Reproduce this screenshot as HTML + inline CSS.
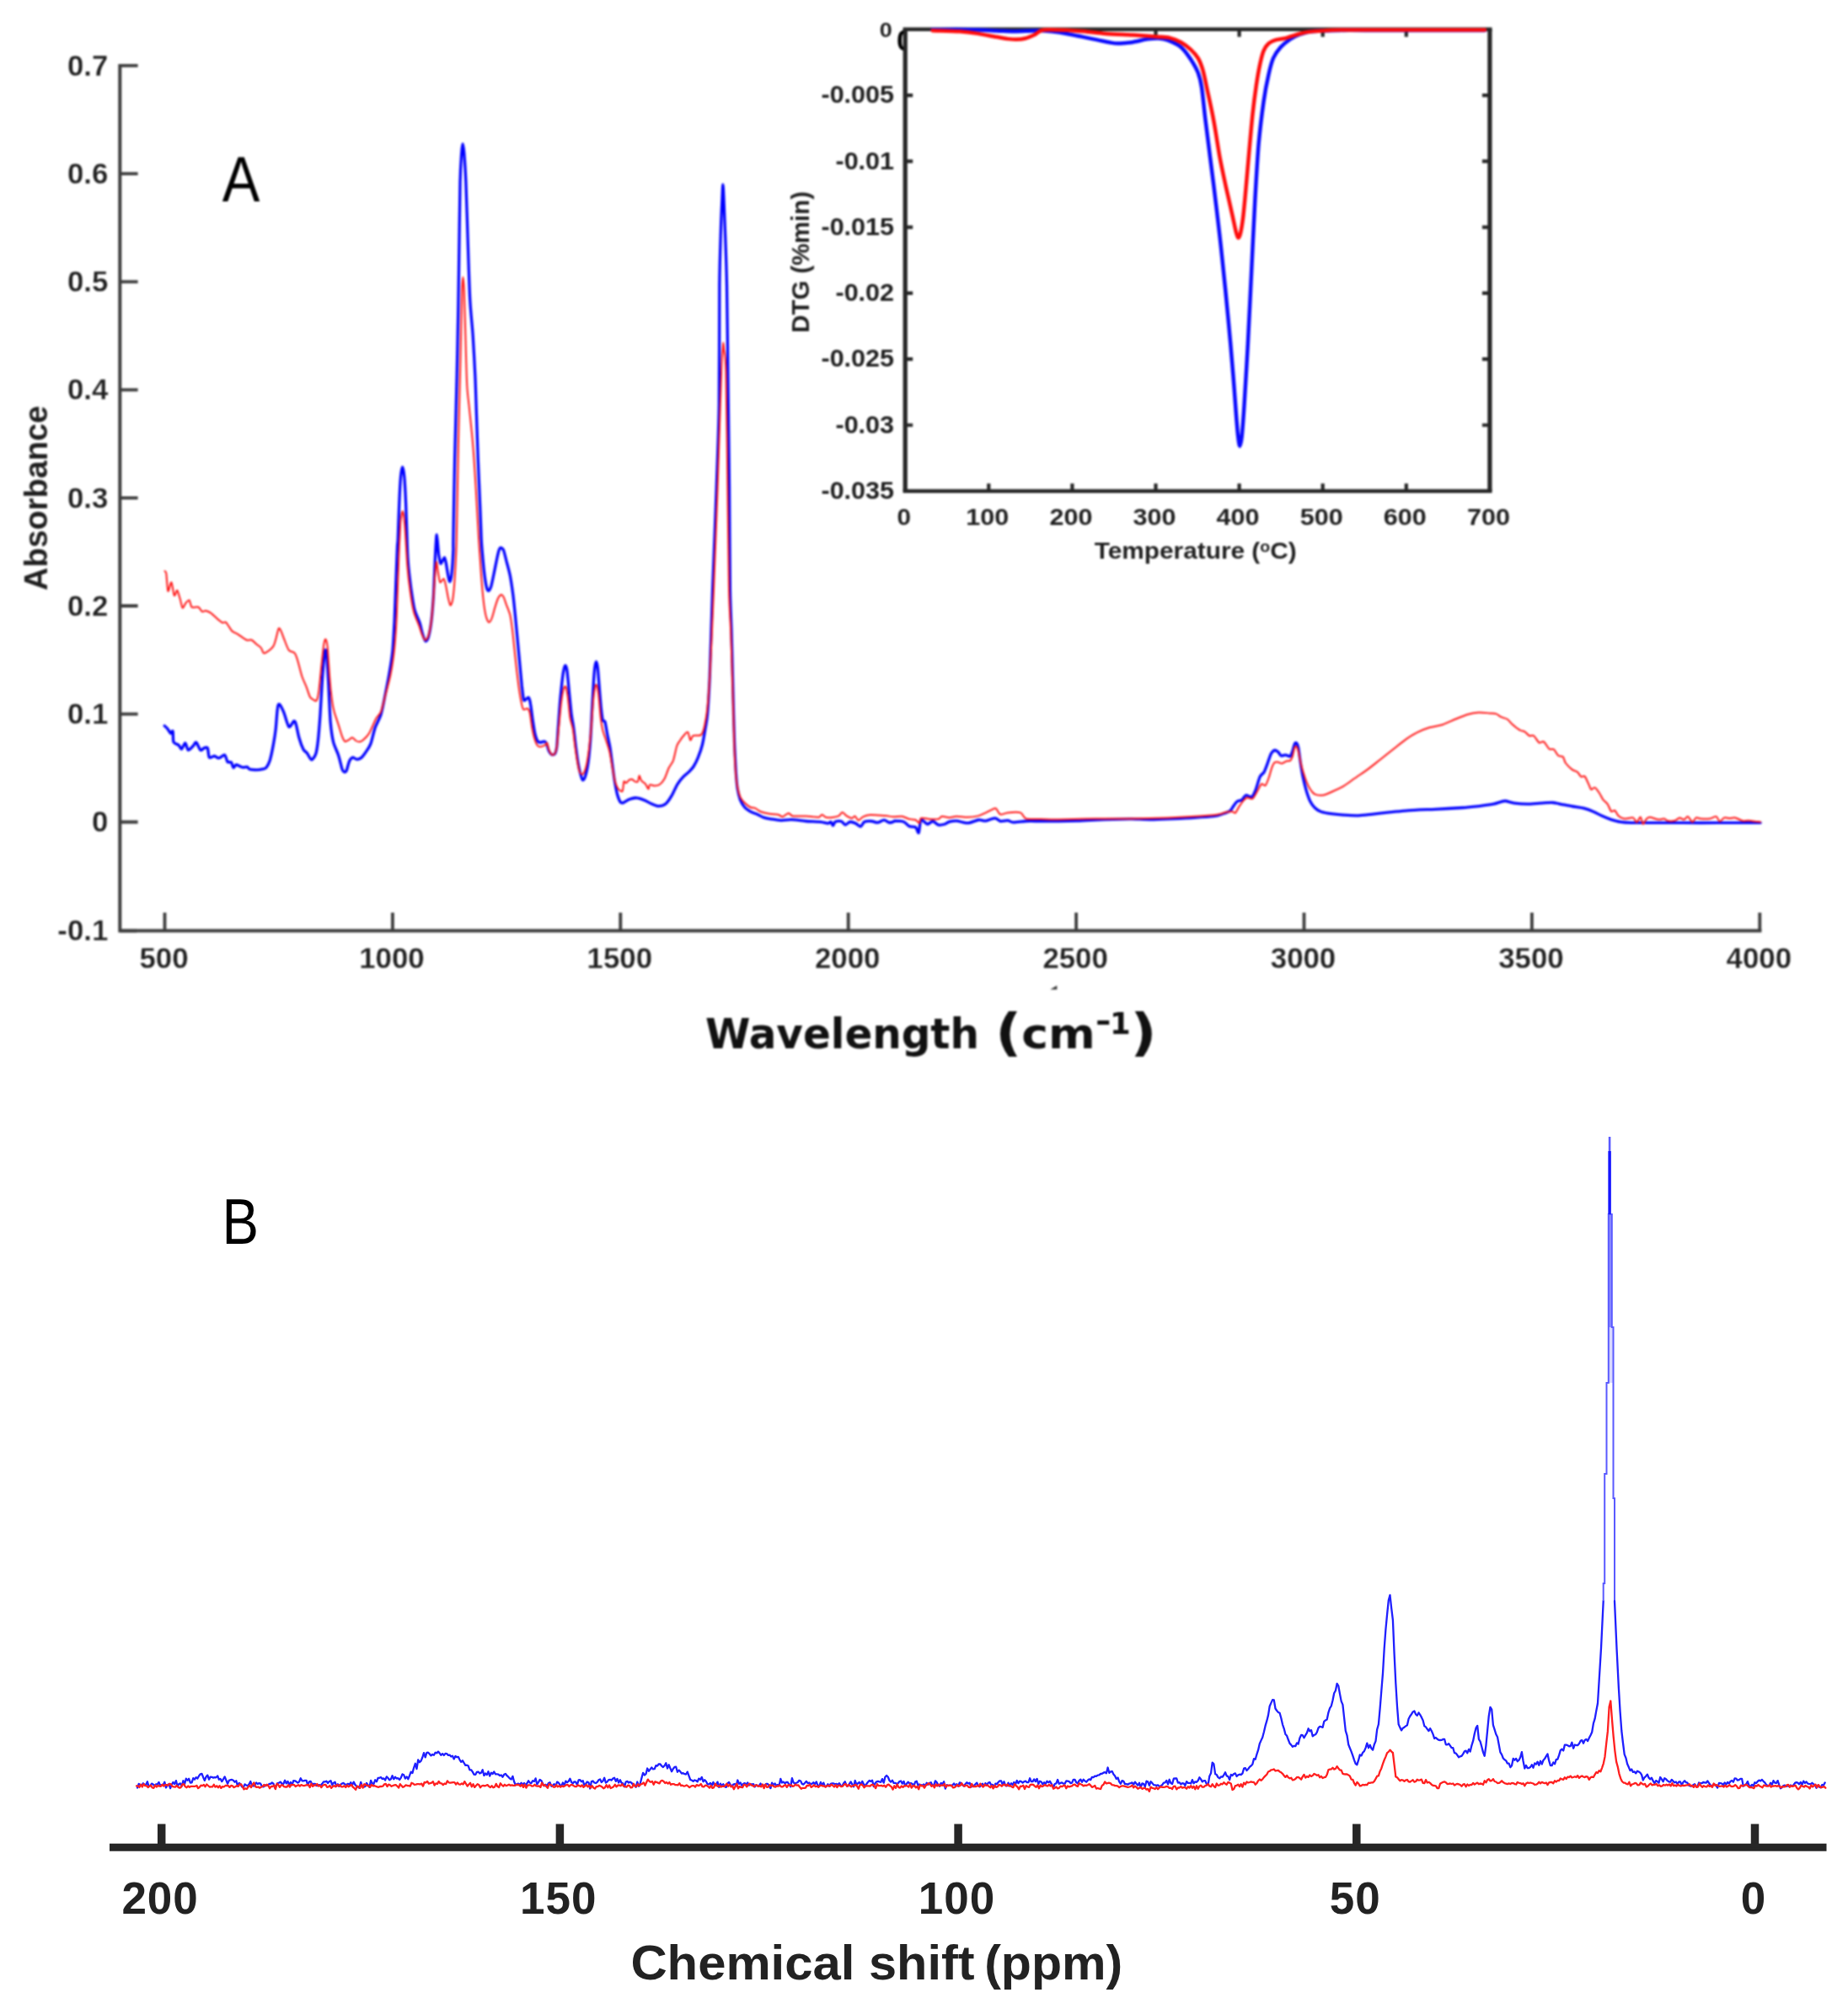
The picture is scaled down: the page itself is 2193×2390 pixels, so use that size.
<!DOCTYPE html>
<html lang="en"><head><meta charset="utf-8"><title>FTIR, DTG and NMR spectra</title>
<style>html,body{margin:0;padding:0;background:#fff}svg{display:block}#pA{filter:blur(0.8px)}#pB{filter:blur(0.55px)}</style>
</head><body>
<svg width="2193" height="2390" viewBox="0 0 2193 2390">
<rect width="2193" height="2390" fill="#fff"/>
<g id="pA">
<g id="ftir-axes" stroke="#3d3d3d" stroke-width="4" fill="none">
<path d="M142.3 76 V1104.6 H2090.4"/>
<path d="M142.3 975.5 h21.3 M142.3 847.3 h21.3 M142.3 719 h21.3 M142.3 590.8 h21.3 M142.3 462.6 h21.3 M142.3 334.4 h21.3 M142.3 206.1 h21.3 M142.3 77.9 h21.3 M142.3 1104.6 h20 M195.5 1104.6 v-21.5 M465.9 1104.6 v-21.5 M736.3 1104.6 v-21.5 M1006.7 1104.6 v-21.5 M1277.1 1104.6 v-21.5 M1547.5 1104.6 v-21.5 M1817.9 1104.6 v-21.5 M2088.3 1104.6 v-21.5" stroke-width="3.8"/>
</g>
<g id="ftir-ylabels" font-family="'Liberation Sans', Arial, sans-serif" font-weight="bold" font-size="34.8" fill="#1f1f1f" text-anchor="end" stroke="#fff" stroke-width="0.3">
<text x="128.3" y="1116.4">-0.1</text>
<text x="128.3" y="987.3">0</text>
<text x="128.3" y="859.1">0.1</text>
<text x="128.3" y="730.8">0.2</text>
<text x="128.3" y="602.6">0.3</text>
<text x="128.3" y="474.4">0.4</text>
<text x="128.3" y="346.1">0.5</text>
<text x="128.3" y="217.9">0.6</text>
<text x="128.3" y="89.7">0.7</text>
</g>
<g id="ftir-xlabels" font-family="'Liberation Sans', Arial, sans-serif" font-weight="bold" font-size="34.8" fill="#1f1f1f" text-anchor="middle" stroke="#fff" stroke-width="0.3">
<text x="194.5" y="1148.6">500</text>
<text x="464.9" y="1148.6">1000</text>
<text x="735.3" y="1148.6">1500</text>
<text x="1005.7" y="1148.6">2000</text>
<text x="1276.1" y="1148.6">2500</text>
<text x="1546.5" y="1148.6">3000</text>
<text x="1816.9" y="1148.6">3500</text>
<text x="2087.3" y="1148.6">4000</text>
</g>
<text transform="translate(55.9 591) rotate(-90)" font-family="'Liberation Sans', Arial, sans-serif" font-weight="bold" font-size="38" fill="#1f1f1f" text-anchor="middle" textLength="219.5" lengthAdjust="spacingAndGlyphs">Absorbance</text>
<g id="wl-label" font-family="'DejaVu Sans', Verdana, sans-serif" font-weight="bold" font-size="50" fill="#111">
<text x="837" y="1243.5" textLength="325" lengthAdjust="spacingAndGlyphs">Wavelength</text>
<text x="1180.9" y="1246.3" font-size="60" textLength="31.5" lengthAdjust="spacingAndGlyphs">(</text>
<text x="1212.3" y="1243.5" textLength="87.5" lengthAdjust="spacingAndGlyphs">cm</text>
<text x="1299.8" y="1223.8" font-size="35.5" textLength="19" lengthAdjust="spacingAndGlyphs">-</text>
<text x="1317" y="1226.8" font-size="35.5">1</text>
<text x="1341.2" y="1246.3" font-size="60" textLength="31.5" lengthAdjust="spacingAndGlyphs">)</text>
</g>
<path d="M1246.3 1174.2 L1254.3 1169.6 L1254.3 1174.2 Z" fill="#333"/>
<text x="263.8" y="238.6" font-family="'Liberation Sans', Arial, sans-serif" font-size="76.5" fill="#000" textLength="44.6" lengthAdjust="spacingAndGlyphs">A</text>
<path id="ftir-blue" d="M195.2 861.3 C195.7 861.8 198.1 863.9 199 865.1 C200 866.3 201.7 870 202.5 870.3 C203.3 870.6 204.6 866.3 205.1 867.7 C205.6 869.1 205.1 878.5 206 880.7 C206.9 882.9 210.8 883 212 884.2 C213.3 885.3 214.5 889.4 215.5 889 C216.5 888.7 218.8 881.4 219.8 881.6 C220.9 881.7 222 889.8 223.3 890.2 C224.6 890.7 228.1 886.2 229.4 885 C230.6 883.8 231.7 880.3 232.8 881 C234 881.7 236.7 889.3 238 890.2 C239.3 891.1 241.2 888 242.3 887.6 C243.4 887.3 245.5 886.1 246.3 887.6 C247.1 889.1 247.3 897.6 248.4 898.9 C249.5 900.1 253 897 254.5 897.1 C256 897.3 258 899.9 259.7 899.7 C261.3 899.6 265.2 895.4 266.6 895.9 C268 896.5 269 902.9 270 904.1 C271.1 905.2 273.4 903.7 274.4 904.6 C275.3 905.5 276.2 910.6 277 911 C277.8 911.4 279 907.6 280.4 907.5 C281.8 907.5 285.6 910.1 287.4 910.5 C289.1 910.8 292.3 909.8 293.4 910.1 C294.6 910.4 294.5 912.3 296 912.7 C297.5 913.2 302.6 913.6 304.7 913.6 C306.8 913.6 310.1 913.1 311.6 912.7 C313.1 912.4 314.8 912.4 315.9 911 C317.1 909.6 319.1 906.1 320.3 902.3 C321.4 898.5 323.7 887.4 324.6 882.4 C325.5 877.5 326.6 870.6 327.2 865.1 C327.8 859.6 328.7 844.8 329.3 840.9 C329.8 836.9 330.5 835.1 331.5 835.7 C332.5 836.2 335.2 841.6 336.7 845.2 C338.2 848.8 341.2 861.1 342.8 862.5 C344.4 863.9 347.7 855.9 348.8 855.6 C350 855.2 350.6 857.3 351.4 859.9 C352.2 862.6 353.7 871.6 354.9 875.5 C356 879.4 358.8 886.9 360.1 889.4 C361.4 891.8 363.1 892.1 364.4 893.7 C365.7 895.3 368.2 901.4 369.6 901.5 C371 901.6 373.8 897.5 374.8 894.5 C375.8 891.5 376.7 885.2 377.4 879 C378.1 872.7 379.3 857.7 380 847.8 C380.7 837.9 381.9 814.2 382.6 804.5 C383.3 794.8 384.7 779.5 385.2 775.1 C385.7 770.7 386.1 771.1 386.4 771.6 C386.8 772.1 387.3 773 387.8 778.5 C388.3 784.1 389.3 802.8 389.9 813.2 C390.4 823.5 391.4 847.4 392.1 856.5 C392.9 865.5 394.3 875.4 395.6 880.7 C396.9 886 400.3 892 401.6 896.3 C403 900.5 405.1 910.1 406 912.7 C406.9 915.4 407.9 916 408.6 916.2 C409.3 916.4 410.4 916.2 411.2 914.5 C412 912.7 413.6 905.3 414.6 903.2 C415.6 901.1 417.5 899.2 418.6 898.9 C419.8 898.6 422 901.1 423.3 901.1 C424.6 901.2 427 900.6 428.5 899.4 C430 898.2 433 894.2 434.5 891.9 C436.1 889.7 438.6 886.2 440 882.4 C441.4 878.6 443.6 868 445.2 863.4 C446.8 858.8 450.5 853.1 452.1 847.8 C453.7 842.5 455.9 830.5 457.3 823.5 C458.7 816.6 461.4 802.8 462.5 795.8 C463.7 788.9 465.2 779.5 466 771.6 C466.7 763.8 467.5 747.6 468.1 737 C468.6 726.3 469.3 703.7 469.8 691.9 C470.2 680.2 471.2 655.6 471.5 648.7 C471.8 641.7 471.9 646.9 472.2 640 C472.5 633.1 473.3 606.9 473.8 597.1 C474.2 587.2 475 571.6 475.5 565.9 C476 560.2 477 554.1 477.6 554.1 C478.2 554.1 479.3 560.2 479.8 565.9 C480.4 571.6 481.2 588.3 481.6 597.1 C482 605.8 482.4 622.5 482.8 631.7 C483.1 640.9 483.5 657.2 484.2 666 C484.8 674.7 486.6 689.5 487.6 697.1 C488.7 704.8 490.6 717.6 491.9 723.1 C493.3 728.7 496.7 734.8 498 738.7 C499.3 742.6 500.5 749.6 501.5 752.6 C502.4 755.5 504 760.4 504.9 760.9 C505.9 761.3 507.5 759.2 508.4 756 C509.3 752.8 511.1 743.7 511.9 737 C512.7 730.3 513.9 715.3 514.5 705.8 C515 696.3 515.8 674.3 516.2 666 C516.6 657.7 517.1 647.7 517.4 643.5 C517.7 639.2 518 634.3 518.3 634.3 C518.5 634.3 519 640.4 519.3 643.5 C519.6 646.5 520.1 654 520.5 657.3 C521 660.7 522.2 667.4 522.8 668.6 C523.3 669.7 524.2 666.9 524.8 666 C525.5 665.1 526.9 661.4 527.4 661.6 C528 661.9 528.6 664.8 529.2 667.7 C529.8 670.6 531.2 680.3 531.8 683.3 C532.4 686.3 533.3 690.7 533.9 690.2 C534.4 689.8 535.6 684.7 536.1 679.8 C536.6 675 537.6 659.2 537.8 653.9 C538.1 648.5 537.7 654.5 537.9 640 C538.1 625.5 539 571 539.6 545 C540.2 519 541.7 468.1 542.2 445 C542.7 421.9 543.4 388.7 543.7 372 C544 355.3 544.2 340.7 544.5 320 C544.8 299.3 545.6 235 546 216.6 C546.4 198.2 547.3 188.1 547.7 182 C548.1 175.9 548.7 170.7 549.1 170.7 C549.5 170.7 550.3 175.9 550.8 182 C551.3 188.1 552.3 202.8 552.9 216.6 C553.5 230.4 554.6 267.3 555.2 285.8 C555.8 304.3 556.9 340 557.7 355 C558.5 370 560.4 386.4 561.2 398.4 C562 410.4 563.2 432.4 563.8 445 C564.4 457.6 565 479.7 565.5 493 C566 506.3 566.7 530 567.3 545 C567.9 560 569.4 593 569.9 605.7 C570.4 618.4 570.9 633.1 571.2 640 C571.5 646.9 572 651.5 572.5 657.3 C573 663.1 574.4 677.9 575.1 683.3 C575.8 688.7 577 695.7 577.7 698 C578.3 700.4 579.2 701.3 579.9 701 C580.6 700.6 582 698.2 582.9 695.4 C583.7 692.6 585.4 684.2 586.3 679.8 C587.2 675.4 589 666.2 589.8 662.5 C590.6 658.8 591.7 653.8 592.4 652.1 C593 650.5 593.9 649.9 594.6 650 C595.3 650.2 596.7 650.9 597.6 653 C598.4 655.1 600 661.9 601 666 C602.1 670 604.3 678 605.4 683.3 C606.4 688.6 608 699.6 608.8 705.8 C609.6 712 610.7 723.1 611.4 730 C612.1 737 613.3 750.4 614 757.7 C614.7 765.1 615.9 778.1 616.6 785.5 C617.3 792.8 618.6 807.2 619.2 813.2 C619.9 819.2 620.8 828.3 621.5 830.5 C622.2 832.7 623.6 830 624.4 829.6 C625.2 829.3 626.7 827.1 627.4 827.9 C628.1 828.7 629 832.1 629.6 835.7 C630.3 839.2 631.5 850.1 632.2 854.7 C632.9 859.3 634 867 634.8 870.3 C635.6 873.7 637.3 878.4 638.3 879.8 C639.2 881.3 640.7 881 641.7 881 C642.8 881 645.1 879.6 646.1 879.8 C647 880 648 880.9 648.7 882.4 C649.4 883.9 650.4 889.4 651.3 891.1 C652.1 892.8 653.7 894.9 654.7 895.4 C655.7 895.9 657.7 895.8 658.5 894.5 C659.3 893.3 660.2 890.3 660.8 885.9 C661.3 881.5 661.9 869.5 662.5 861.6 C663.1 853.8 664.3 835.3 665.1 827 C665.9 818.7 667.5 804.3 668.2 799.3 C669 794.3 670 790.2 670.6 789.8 C671.3 789.3 672.3 791.6 672.9 795.8 C673.5 800.1 674.8 814.9 675.5 821.8 C676.2 828.7 677.4 842.3 678.1 847.8 C678.8 853.3 680 858.3 680.7 863.4 C681.4 868.5 682.6 880.3 683.3 885.9 C684 891.4 685.2 900.8 685.9 904.9 C686.6 909.1 687.7 914.3 688.5 917.1 C689.2 919.8 690.6 925.1 691.4 925.7 C692.2 926.3 693.7 924.2 694.5 921.4 C695.4 918.6 697.2 910.6 698 904.9 C698.8 899.3 700 886.6 700.6 879 C701.2 871.3 701.9 856.3 702.3 847.8 C702.8 839.2 703.6 822.3 704.1 814.9 C704.5 807.5 705.3 796.4 705.8 792.4 C706.3 788.4 707.1 785.1 707.5 785.1 C708 785.1 708.8 788.6 709.3 792.4 C709.7 796.1 710.5 806.9 711 813.2 C711.5 819.4 712.7 833.6 713.2 839.1 C713.8 844.7 714.7 852.4 715.3 854.7 C715.9 857 717.2 854.4 717.9 856.5 C718.6 858.5 719.7 866.1 720.5 870.3 C721.3 874.5 723.2 882.8 724 887.6 C724.8 892.5 725.9 901.6 726.6 906.7 C727.3 911.7 728.4 920.9 729.2 925.7 C730 930.6 731.7 939.6 732.6 943 C733.6 946.5 735.2 950.4 736.1 951.7 C737 953 738.1 953 739.6 952.6 C741 952.1 744.8 949.3 746.9 948.5 C749.1 947.7 753.3 946.6 755.6 946.8 C757.9 946.9 761.9 948.4 764.2 949.4 C766.6 950.3 770.6 952.7 772.9 953.7 C775.2 954.6 779.2 956.6 781.6 956.6 C783.9 956.6 788.1 955.3 790.2 953.7 C792.3 952 795.3 947.3 797.1 944.2 C799 941 802.2 933.3 804.1 930.3 C805.9 927.3 809.1 923.6 811 921.6 C812.8 919.7 816.3 917.2 817.9 915.6 C819.5 914 821.7 911.7 823.1 909.5 C824.5 907.3 826.9 902.6 828.3 899.1 C829.7 895.7 832.4 888.2 833.5 883.5 C834.7 878.9 836.2 869.4 837 864.5 C837.8 859.7 838.9 855.3 839.6 847.2 C840.3 839.1 841.6 816.6 842.2 803.9 C842.7 791.2 843.4 765.8 843.9 751.9 C844.4 738.1 844.8 723.1 845.6 700 C846.5 676.9 849.2 608.3 850.2 579 C851.2 549.7 852.8 512 853.3 480 C853.8 448 853.5 367 853.8 339 C854.1 311 855.1 283.9 855.5 270 C855.9 256.1 856.7 241.8 857 235 C857.3 228.2 857.6 218.8 857.9 218.8 C858.2 218.8 858.6 228.2 858.9 235 C859.2 241.8 859.8 256.1 860.3 270 C860.8 283.9 862 311 862.5 339 C863 367 863.9 448 864.3 480 C864.7 512 865.2 549.7 865.5 579 C865.8 608.3 866 676.9 866.4 700 C866.8 723.1 867.7 735.8 868.1 751.9 C868.6 768.1 869.4 803.9 869.9 821.2 C870.3 838.5 871.1 869.1 871.6 881.8 C872.1 894.5 872.9 909.3 873.3 916.5 C873.8 923.6 874.4 931.1 875.1 935.5 C875.8 939.9 877.4 946.3 878.5 949.4 C879.7 952.4 882.1 956.2 883.7 958 C885.3 959.9 888.6 962 890.6 963.2 C892.7 964.4 897.2 965.7 899.3 966.7 C901.4 967.6 903.9 969.4 906.2 970.1 C908.5 970.9 913.9 971.7 916.6 972.2 C919.4 972.7 924 973.5 927 973.6 C930 973.7 935.2 972.6 939.1 972.7 C943.1 972.8 951.8 974.1 956.5 974.5 C961.1 974.8 970.3 975 973.8 975.3 C977.2 975.7 980.8 977.1 982.4 977.1 C984 977.1 985.1 975 985.9 975.3 C986.7 975.7 987.8 979.7 988.5 979.7 C989.2 979.7 989.8 976 991.1 975.3 C992.4 974.6 996.4 974 998 974.5 C999.6 974.9 1001.8 978.7 1003.2 978.8 C1004.6 978.9 1006.8 975.6 1008.4 975.3 C1010 975.1 1013.6 976.3 1015.3 977.1 C1017.1 977.8 1020 981.1 1021.4 980.9 C1022.8 980.6 1024 976.2 1025.7 975.3 C1027.4 974.5 1032.3 974.3 1034.4 974.5 C1036.5 974.6 1039.3 976.4 1041.3 976.2 C1043.3 976 1047.2 973.2 1049.1 973.2 C1050.9 973.2 1053.7 975.9 1055.2 976.2 C1056.6 976.5 1059.1 975.6 1060 975.3 C1060.9 975 1060 974.1 1061.6 974.1 C1063.3 974.1 1070.2 974.3 1072.5 975.2 C1074.8 976.1 1077.1 979.7 1079 980.6 C1080.8 981.5 1085 980.7 1086.5 981.7 C1088 982.7 1089.4 989.3 1090.2 988.2 C1091.1 987 1091.6 974.4 1093 973 C1094.4 971.7 1098.7 977.8 1100.6 978 C1102.5 978.2 1105.4 974.4 1107.1 974.5 C1108.8 974.7 1111.7 978.4 1113.6 978.9 C1115.5 979.3 1119.4 978.5 1121.2 978 C1122.9 977.5 1124.7 975.7 1126.6 975.2 C1128.5 974.7 1132.4 973.9 1135.2 974.1 C1138.1 974.3 1144.8 976.9 1148.2 976.7 C1151.7 976.6 1158.3 973.4 1161.2 973 C1164.1 972.7 1167.3 974.4 1169.9 974.1 C1172.5 973.8 1178.4 970.8 1180.7 970.9 C1183 970.9 1185.2 974.2 1187.2 974.5 C1189.2 974.9 1193.8 973.5 1195.8 973.7 C1197.9 973.9 1199.5 975.7 1202.3 975.8 C1205.2 976 1213.2 974.7 1217.5 974.5 C1221.8 974.4 1229.6 974.5 1234.8 974.5 C1240 974.5 1250.7 974.6 1256.5 974.5 C1262.2 974.5 1272.3 974.3 1278.1 974.1 C1283.9 973.9 1294 973.3 1299.7 973 C1305.5 972.8 1315.6 972.5 1321.4 972.4 C1327.2 972.2 1337.3 971.9 1343 971.9 C1348.8 972 1358.9 972.6 1364.7 972.6 C1370.4 972.6 1380.5 972.2 1386.3 971.9 C1392.1 971.7 1400.8 971.3 1408 970.9 C1415.1 970.4 1434.1 969.4 1440 968.7 C1445.9 968 1449.3 966.3 1451.9 965.5 C1454.6 964.6 1457.9 963.6 1459.5 962.4 C1461.1 961.2 1462.7 957.9 1463.9 956.4 C1465 954.8 1466.9 951.9 1468.2 951 C1469.5 950 1472.2 950.4 1473.6 949.4 C1474.9 948.5 1476.8 944.3 1478.4 943.8 C1479.9 943.3 1484 946.3 1485.5 945.5 C1487 944.8 1488.5 941.1 1489.8 938 C1491.1 934.8 1493.9 924.6 1495.2 921.7 C1496.6 918.8 1498.8 918.3 1500 916.3 C1501.2 914.3 1502.8 909.5 1503.9 906.6 C1505 903.7 1507.1 896.8 1508.2 894.7 C1509.4 892.5 1511.4 890.6 1512.6 890.3 C1513.7 890.1 1515.9 891.6 1516.9 892.5 C1517.9 893.4 1519 896.4 1520.1 896.8 C1521.3 897.3 1524.1 895.7 1525.5 895.8 C1527 895.8 1529.9 898.1 1531 897.5 C1532 896.9 1533 893.4 1533.8 891.4 C1534.5 889.5 1535.7 884.1 1536.4 882.8 C1537 881.5 1538 881.1 1538.5 881.7 C1539.1 882.3 1540.1 884.4 1540.7 887.1 C1541.3 889.8 1542.1 897.6 1542.9 902.3 C1543.6 906.9 1545.1 916.8 1546.1 921.7 C1547.1 926.6 1549.3 935.2 1550.4 939 C1551.6 942.9 1553.5 948.4 1554.8 951 C1556.1 953.5 1558.4 956.9 1560.2 958.5 C1561.9 960.2 1565.2 962.3 1567.7 963.3 C1570.3 964.2 1576 965.2 1579.7 965.7 C1583.3 966.2 1590.5 966.9 1594.8 967.2 C1599.1 967.5 1607.5 968 1612.1 967.8 C1616.7 967.7 1624.5 966.6 1629.4 966.1 C1634.3 965.6 1643.4 964.5 1648.9 963.9 C1654.4 963.4 1663.3 962.3 1670.6 961.8 C1677.8 961.3 1694.4 960.7 1703 960.3 C1711.7 959.8 1728.3 959 1735.5 958.5 C1742.7 958 1752.2 956.9 1757.1 956.4 C1762 955.8 1769.1 954.8 1772.3 954.2 C1775.5 953.6 1779.1 952.1 1781 951.6 C1782.8 951.1 1784.2 950.3 1786.4 950.5 C1788.5 950.7 1793.8 952.6 1797.3 953.1 C1800.8 953.6 1808.4 954.2 1812.5 954.2 C1816.5 954.2 1823.6 953.3 1827.6 953.1 C1831.7 952.9 1839.3 952.3 1842.8 952.5 C1846.2 952.7 1850.4 954 1853.6 954.6 C1856.8 955.2 1863.1 956.4 1866.6 957 C1870 957.6 1876.4 958.4 1879.6 959.2 C1882.7 960 1887.5 961.6 1890.4 962.9 C1893.3 964.1 1898.3 967 1901.2 968.3 C1904.1 969.6 1909.1 971.6 1912 972.6 C1914.9 973.5 1919.7 974.9 1922.9 975.4 C1926 975.9 1928.9 976.2 1935.8 976.3 C1942.8 976.4 1963.8 976.2 1974.8 976.3 C1985.8 976.3 2006.6 976.5 2018.1 976.5 C2029.6 976.5 2051.9 976.3 2061.4 976.3 C2070.9 976.2 2085.4 976.3 2089.1 976.3" fill="none" stroke="#0000ff" stroke-width="3.3" stroke-linejoin="round" stroke-linecap="round"/>
<path id="ftir-red" d="M195.6 677.7 C195.8 678.1 196.8 677.5 197.3 680.7 C197.8 683.9 198.6 700.1 199.4 701.5 C200.2 702.9 202.4 690.4 203.4 691.1 C204.4 691.8 205.9 705.4 206.8 706.7 C207.8 707.9 209.4 700 210.3 700.6 C211.2 701.2 212.9 708.2 213.8 711 C214.6 713.8 215.8 720.8 216.7 721.4 C217.6 722 219.6 716.5 220.7 715.3 C221.8 714.1 223.8 711.7 224.7 712.4 C225.6 713.1 226.2 719.4 227.6 720.5 C229.1 721.6 233.8 719.8 235.4 720.5 C237 721.2 238.6 725.1 239.7 725.7 C240.9 726.3 242.7 724.6 244.1 724.8 C245.5 725.1 248.3 726.2 250.1 727.4 C252 728.7 256.1 732.8 257.9 734.4 C259.8 735.9 262.6 738.5 264 739 C265.4 739.6 266.8 737.4 268.3 738.7 C269.8 740 273.4 746.9 275.2 748.7 C277.1 750.6 279.9 751.1 282.2 752.6 C284.5 754 290.4 758.6 292.6 759.5 C294.7 760.4 297 758.8 298.6 759.5 C300.2 760.2 303.2 763.4 304.7 764.7 C306.2 765.9 308.8 767.6 309.9 769 C311 770.4 311.8 774.6 313 775.1 C314.1 775.5 317 773.6 318.5 772.5 C320.1 771.3 323.4 768.4 324.6 766.4 C325.8 764.4 326.7 760.5 327.5 757.7 C328.3 755 329.9 747.2 330.6 746 C331.4 744.7 332.3 746.4 333.2 748.2 C334.2 750 336.3 756.4 337.6 759.5 C338.8 762.6 341.2 769.5 342.8 771.6 C344.4 773.7 348.3 773.4 349.7 775.1 C351.1 776.7 352 780 353.2 783.7 C354.3 787.4 357 798.6 358.4 802.8 C359.7 806.9 362.3 811.7 363.5 814.9 C364.8 818.1 366.7 824.9 367.9 827 C369 829.1 371.2 829.9 372.2 830.5 C373.2 831.1 374.9 832.7 375.7 831.3 C376.5 830 377.5 826 378.3 820.1 C379.1 814.2 380.9 794.6 381.7 787.2 C382.5 779.8 383.7 768.5 384.3 764.7 C385 760.9 385.8 758.2 386.4 758.6 C387 759.1 388 762 388.7 768.1 C389.3 774.3 390.6 796.2 391.3 804.5 C391.9 812.8 393.2 825.2 393.9 830.5 C394.5 835.8 395.4 840.4 396.5 844.3 C397.5 848.3 400.4 856 401.6 859.9 C402.9 863.8 404.9 871.1 406 873.8 C407 876.4 408.4 879.2 409.4 879.8 C410.5 880.4 412.6 878.7 413.8 878.1 C414.9 877.5 416.9 875 418.1 875.2 C419.2 875.3 421.3 878.3 422.4 879 C423.6 879.7 425.6 880.5 426.8 880.3 C427.9 880.2 429.6 879.4 431.1 878.1 C432.6 876.8 436 873.7 438 870.3 C440 867 444.2 856.5 446.1 853 C447.9 849.5 450.6 848 452.1 844.3 C453.6 840.6 455.8 831.1 457.3 825.3 C458.8 819.5 462 808 463.4 801 C464.8 794.1 466.8 781.4 467.7 773.3 C468.6 765.3 469.7 750.8 470.3 740.4 C470.9 730 471.6 707.6 472 695.4 C472.5 683.2 473.5 656 473.8 648.7 C474.1 641.3 474.1 644.1 474.3 640 C474.5 635.9 475 622.3 475.5 617.8 C476 613.4 477.2 606.6 477.7 606.6 C478.3 606.6 479.4 613.8 479.8 617.8 C480.3 621.9 480.8 629.8 481.2 636.9 C481.7 644 482.6 662.4 483.3 671.2 C484 679.9 485.7 694.9 486.8 702.3 C487.8 709.7 489.7 721.3 491.1 726.6 C492.5 731.9 495.9 738.7 497.1 742.2 C498.4 745.6 499.6 750.2 500.6 752.6 C501.6 754.9 503.4 759.2 504.4 759.5 C505.5 759.7 507.4 757.3 508.4 754.3 C509.4 751.3 511.1 742.5 511.9 737 C512.6 731.4 513.5 719.9 514.1 712.7 C514.7 705.6 515.7 689.4 516.2 683.3 C516.7 677.2 517.4 667.3 517.9 666.8 C518.4 666.4 519.4 676.6 520 679.8 C520.6 683.1 521.4 690.2 522.3 691.1 C523.1 692 525.7 686.2 526.6 686.8 C527.5 687.3 528.5 692.4 529.2 695.4 C529.9 698.4 531.1 706.2 531.8 709.3 C532.5 712.3 533.7 717.8 534.4 718.3 C535.1 718.7 536.3 715.8 537 712.7 C537.6 709.7 538.5 701.6 539 695.4 C539.6 689.2 540.4 673.4 540.8 666 C541.1 658.6 541.4 658.4 541.8 640 C542.2 621.6 543.3 556.6 543.9 527.8 C544.5 499 545.9 448.1 546.5 423.9 C547.1 399.7 547.8 358.7 548.2 346 C548.6 333.3 549.1 328.7 549.4 328.7 C549.8 328.7 550.4 335.6 550.8 346 C551.2 356.4 552.1 391.6 552.6 406.6 C553 421.6 553.7 448.1 554.3 458.5 C554.9 468.9 556 475.3 556.9 484.5 C557.8 493.7 560.2 515.1 561.2 527.8 C562.3 540.5 563.8 564.8 564.7 579.7 C565.6 594.7 567.4 628.5 568.1 640 C568.8 651.5 569.3 657.9 569.9 666 C570.4 674.1 571.8 693 572.5 700.6 C573.2 708.2 574.4 718.6 575.1 723.1 C575.8 727.6 576.9 732.3 577.7 734.4 C578.4 736.4 579.8 738.5 580.6 738.4 C581.4 738.2 582.8 735.8 583.7 733.5 C584.6 731.2 586.3 724.4 587.2 721.4 C588.1 718.4 589.7 713.1 590.6 711 C591.6 708.9 593.7 706.1 594.6 705.8 C595.6 705.5 596.7 706.8 597.6 708.4 C598.4 710 600 715 601 717.9 C602.1 720.8 604.4 726.1 605.4 730 C606.3 734 607.3 741.8 608 747.4 C608.7 752.9 609.9 765.1 610.6 771.6 C611.3 778.1 612.5 789.8 613.2 795.8 C613.9 801.8 615.1 811.8 615.8 816.6 C616.5 821.5 617.7 828.9 618.4 832.2 C619 835.6 619.9 840.6 621 841.7 C622 842.9 625.1 840.3 626.1 840.9 C627.2 841.4 628.1 843.1 628.7 846.1 C629.4 849.1 630.6 859.5 631.3 863.4 C632 867.3 633.1 872.7 633.9 875.5 C634.7 878.3 636.5 882.7 637.4 884.2 C638.3 885.6 639.6 886.2 640.9 886.2 C642.1 886.2 645.8 884.8 646.9 884.2 C648 883.5 648.6 880.9 649.2 881.6 C649.8 882.3 650.5 887.5 651.3 889.4 C652 891.2 653.8 894.7 654.7 895.4 C655.6 896.1 657.4 895.8 658.2 894.5 C659 893.3 660.1 890.5 660.8 885.9 C661.5 881.3 662.7 866.8 663.4 859.9 C664.1 853 665.3 839.5 666 833.9 C666.7 828.4 667.9 820.9 668.6 818.4 C669.3 815.8 670.5 813.7 671.2 814.9 C671.9 816 673.1 822.2 673.8 827 C674.5 831.9 675.6 846.2 676.4 851.3 C677.2 856.3 679 860.5 679.8 865.1 C680.6 869.7 681.7 880.8 682.4 885.9 C683.1 891 684.3 899.3 685 903.2 C685.7 907.1 686.8 913.2 687.6 915.3 C688.5 917.4 690.4 919.5 691.4 918.8 C692.5 918.1 694.4 914.1 695.4 910.1 C696.4 906.2 698.1 895.4 698.9 889.4 C699.7 883.3 700.8 873 701.5 865.1 C702.2 857.3 703.4 837.2 704.1 830.5 C704.7 823.8 705.8 817.2 706.3 814.9 C706.9 812.6 707.5 812 708.1 813.2 C708.6 814.3 709.5 818.5 710.1 823.5 C710.8 828.6 712 845.5 712.7 851.3 C713.4 857 714.5 863.4 715.3 866.8 C716.1 870.3 717.7 874 718.8 877.2 C719.8 880.5 722.1 886.7 723.1 891.1 C724.2 895.5 725.7 905.5 726.6 910.1 C727.4 914.7 728.8 922.7 729.5 925.7 C730.2 928.7 731.1 931.1 731.8 932.6 C732.4 934.1 733.4 936.2 734.4 937 C735.3 937.8 737.9 940 738.7 938.7 C739.5 937.4 739.9 928.7 740.4 927.4 C741 926.2 742.2 929.4 743 929.2 C743.8 928.9 745.6 926.3 746.5 925.7 C747.4 925.1 749 924.6 750 924.8 C750.9 925.1 752.5 927.1 753.4 927.4 C754.3 927.8 756.2 928.4 756.9 927.4 C757.6 926.5 758.2 921 758.6 920.5 C759 920.1 759.6 923.1 760 924 C760.4 924.8 760.8 926 761.6 926.8 C762.4 927.7 764.9 929 766 930.3 C767 931.6 768.7 936.2 769.4 936.4 C770.1 936.5 770.2 931.7 771.2 931.2 C772.1 930.6 774.9 932.4 776.4 932.4 C777.9 932.4 780.8 932.3 782.4 931.2 C784 930.1 787 926.9 788.5 924.2 C790 921.6 792.3 914.1 793.7 911.3 C795.1 908.4 797.6 906.1 798.9 902.6 C800.1 899.1 802.2 888.4 803.2 885.3 C804.2 882.2 805.5 881 806.7 879.2 C807.8 877.5 810.6 873.7 811.9 872.3 C813.1 870.9 815.2 868 816.2 868.8 C817.2 869.6 818.5 877.8 819.3 878.4 C820.1 878.9 821.1 873.9 822.3 873.2 C823.5 872.4 826.9 873 828.3 872.8 C829.7 872.6 831.6 873 832.6 871.4 C833.7 869.9 835.2 865.4 836.1 861 C837 856.7 838.8 846.1 839.6 838.5 C840.4 830.9 841.5 815.4 842.2 803.9 C842.9 792.4 844.1 765.8 844.8 751.9 C845.4 738.1 846.1 723.1 847 700 C847.9 676.9 850.4 613.7 851.6 579 C852.8 544.3 855.3 461.9 856.1 440 C856.9 418.1 857.3 419.5 857.6 415 C857.9 410.5 858.1 406.5 858.3 406.5 C858.5 406.5 858.8 410.5 859.2 415 C859.6 419.5 860.8 418.1 861.4 440 C862 461.9 862.9 544.3 863.4 579 C863.9 613.7 864.5 676.9 865 700 C865.5 723.1 866.7 735.8 867.3 751.9 C867.9 768.1 869 803.9 869.5 821.2 C870.1 838.5 870.8 869.1 871.3 881.8 C871.7 894.5 872.5 909.5 873 916.5 C873.5 923.4 874.3 929.8 875.1 933.8 C875.8 937.7 877.4 943.3 878.5 945.9 C879.7 948.4 882.1 951.2 883.7 952.8 C885.3 954.4 889 957.2 890.6 958 C892.3 958.8 894.2 958.2 895.8 958.9 C897.5 959.6 900.5 962.3 902.8 963.2 C905.1 964.1 910.4 965.3 913.2 965.8 C915.9 966.3 921.5 966.2 923.5 966.7 C925.6 967.1 927.1 969.5 928.7 969.3 C930.4 969 934.1 965.1 935.7 964.9 C937.3 964.8 938.1 967.9 940.9 968.4 C943.6 968.9 953.2 968.3 956.5 968.4 C959.7 968.5 963 969.1 965.1 969.3 C967.2 969.4 970.6 970.1 972 969.8 C973.4 969.4 974.3 966.6 975.5 966.7 C976.7 966.7 978.8 969.7 980.7 970.1 C982.5 970.5 987.4 970.1 989.4 969.8 C991.3 969.5 994 968.8 995.4 968.1 C996.8 967.3 998.5 964 999.7 964.1 C1001 964.1 1003.4 967.5 1004.9 968.4 C1006.4 969.3 1009.7 971 1011 971 C1012.3 971 1013.4 968.1 1014.5 968.4 C1015.5 968.7 1017.5 973.5 1018.8 973.6 C1020.1 973.7 1022.1 970.1 1024 969.3 C1025.8 968.4 1030.1 967.2 1032.6 967 C1035.2 966.8 1040.5 967.4 1043 967.5 C1045.6 967.7 1049.4 967.8 1051.7 968.1 C1054 968.3 1057.5 969.2 1060 969.3 C1062.5 969.4 1067.8 968.3 1070.3 968.7 C1072.8 969.1 1076.8 971.4 1079 971.9 C1081.1 972.5 1084.9 972.4 1086.5 973 C1088.1 973.7 1090 977 1090.9 976.7 C1091.7 976.4 1091.4 971.5 1093 970.9 C1094.6 970.2 1100 971.8 1102.8 971.9 C1105.5 972.1 1111.6 972.4 1113.6 971.9 C1115.6 971.5 1116.2 968.9 1117.9 968.7 C1119.7 968.5 1124.3 970.2 1126.6 970.2 C1128.9 970.2 1132.4 968.8 1135.2 968.7 C1138.1 968.6 1144.8 969.9 1148.2 969.8 C1151.7 969.7 1158.3 968.8 1161.2 968.1 C1164.1 967.3 1167.8 965.3 1169.9 964.4 C1171.9 963.4 1174.8 961.8 1176.4 961.1 C1178 960.5 1180.3 958.7 1181.8 959.4 C1183.2 960.1 1185.3 965.9 1187.2 966.5 C1189.1 967.2 1192.7 964.7 1195.8 964.4 C1199 964.1 1208.1 963.4 1211 964.4 C1213.9 965.3 1214.3 970.5 1217.5 971.5 C1220.7 972.5 1229.6 971.8 1234.8 971.9 C1240 972.1 1247.8 972.4 1256.5 972.4 C1265.1 972.3 1285.3 971.7 1299.7 971.5 C1314.2 971.3 1346 971.7 1364.7 971.1 C1383.4 970.5 1428.1 968.1 1440 967.2 C1451.9 966.2 1451.2 964.5 1454.1 963.9 C1457 963.4 1460.1 962.8 1461.7 962.9 C1463.3 962.9 1464.9 965.3 1466 964.6 C1467.2 963.9 1469 959.4 1470.3 957.4 C1471.6 955.5 1474.5 951.3 1475.8 949.9 C1477.1 948.4 1478.6 946.9 1480.1 946.6 C1481.5 946.3 1485 948.7 1486.6 947.7 C1488.2 946.7 1490.6 941.4 1492 939 C1493.4 936.7 1495.7 931.3 1497 930.4 C1498.3 929.5 1500.5 933.3 1501.7 932.1 C1502.9 931 1505.1 924.6 1506.1 921.7 C1507.1 918.9 1508.4 913.2 1509.3 910.9 C1510.2 908.7 1511.5 905.7 1512.6 904.8 C1513.6 904 1515.7 904.2 1516.9 904.4 C1518 904.6 1519.9 906.3 1521.2 906.1 C1522.5 906 1525.3 903.8 1526.6 903.3 C1527.9 902.9 1530 903.4 1531 902.7 C1531.9 902 1533 900 1533.8 897.9 C1534.5 895.8 1535.7 888.7 1536.4 887.1 C1537 885.5 1538 885.4 1538.5 886 C1539.1 886.6 1540 888.7 1540.7 891.4 C1541.4 894.2 1542.9 902.5 1543.9 906.6 C1544.9 910.6 1547.1 918.3 1548.3 921.7 C1549.4 925.2 1551.4 930.2 1552.6 932.6 C1553.8 934.9 1555.8 938.1 1556.9 939.5 C1558.1 940.9 1559.4 942.4 1561.3 942.9 C1563.1 943.5 1568.3 943.9 1571 943.4 C1573.7 942.9 1578.6 940.5 1581.8 939 C1585 937.6 1591.3 934.6 1594.8 932.6 C1598.3 930.5 1604 926.1 1607.8 923.5 C1611.5 920.9 1618.9 916 1622.9 913.1 C1627 910.1 1634.1 904.3 1638.1 901.2 C1642.1 898 1649.2 892.4 1653.2 889.3 C1657.3 886.1 1664.6 880 1668.4 877.4 C1672.2 874.7 1677.6 871.2 1681.4 869.4 C1685.1 867.5 1692.5 864.5 1696.5 863.3 C1700.6 862 1707.6 861.3 1711.7 860 C1715.7 858.7 1722.8 855.2 1726.8 853.5 C1730.9 851.9 1738.2 848.8 1742 847.7 C1745.7 846.6 1751.5 845.7 1755 845.5 C1758.4 845.4 1765.2 846.2 1768 846.4 C1770.7 846.6 1773.8 846.5 1775.5 847.1 C1777.3 847.6 1779.2 849.9 1781 850.7 C1782.7 851.6 1786.8 852.3 1788.7 853.5 C1790.6 854.8 1793.1 858.3 1795.2 860 C1797.2 861.8 1801.9 865.5 1803.8 866.5 C1805.7 867.6 1807.8 867.2 1809.2 868.1 C1810.7 868.9 1813.2 872.4 1814.6 873 C1816.1 873.7 1818.5 871.9 1820 873 C1821.6 874.1 1824.9 880.3 1826.5 881.3 C1828.1 882.2 1830.4 879.2 1831.9 880.2 C1833.5 881.2 1836.9 887.6 1838.4 888.8 C1840 890 1842.4 888.2 1843.9 889.3 C1845.3 890.3 1847.8 895.7 1849.3 896.8 C1850.7 898 1853.5 896.8 1854.7 897.9 C1855.8 899.1 1856.5 903.5 1857.9 905.5 C1859.4 907.5 1863.6 911.6 1865.5 913.1 C1867.4 914.5 1870.5 915.2 1872 916.3 C1873.4 917.5 1875.2 921.1 1876.3 921.7 C1877.5 922.4 1879.4 919.9 1880.6 921.3 C1881.9 922.7 1885.1 930.5 1886.1 932.6 C1887.1 934.6 1887.4 936.6 1888.2 936.9 C1889.1 937.2 1891.3 934.1 1892.6 934.7 C1893.9 935.3 1896.7 939.3 1898 941.2 C1899.3 943.1 1901 947.1 1902.3 948.8 C1903.6 950.5 1906.4 952.3 1907.7 954.2 C1909 956.1 1910.9 961.8 1912 962.9 C1913.2 963.9 1915.2 961.1 1916.4 961.8 C1917.5 962.5 1919.2 967 1920.7 968.3 C1922.1 969.6 1924.9 971.2 1927.2 971.5 C1929.5 971.8 1936 969.9 1938 970.4 C1940 971 1941.2 976 1942.3 975.8 C1943.5 975.7 1945.7 969.1 1946.7 969.4 C1947.7 969.6 1949 977.6 1949.9 978 C1950.8 978.4 1952.2 973.7 1953.2 972.6 C1954.2 971.5 1955.5 969.8 1957.5 969.8 C1959.5 969.8 1966 972.4 1968.3 972.6 C1970.6 972.8 1973.4 971.3 1974.8 971.5 C1976.2 971.7 1977.4 973.8 1979.1 974.1 C1980.9 974.4 1985.9 974.2 1987.8 973.7 C1989.7 973.2 1991.8 970.6 1993.2 970.4 C1994.6 970.3 1997.3 972.8 1998.6 972.6 C1999.9 972.4 2001.6 968.5 2002.9 968.9 C2004.2 969.3 2007.1 975.2 2008.4 975.4 C2009.7 975.6 2011.4 971 2012.7 970.4 C2014 969.9 2015.9 971.4 2018.1 971.5 C2020.3 971.7 2026.5 971.9 2028.9 971.5 C2031.4 971.2 2034.9 968.5 2036.5 968.9 C2038.1 969.4 2039.5 974.6 2040.8 974.8 C2042.1 975 2044.6 970.9 2046.2 970.4 C2047.8 969.9 2051 971.1 2052.7 971.1 C2054.5 971.1 2057.2 970 2059.2 970.4 C2061.2 970.8 2065.9 973.7 2067.9 974.1 C2069.9 974.5 2072.4 973.6 2074.4 973.7 C2076.4 973.8 2081.1 974.5 2083 974.8 C2085 975 2088.3 975.3 2089.1 975.4" fill="none" stroke="#ff1414" stroke-width="2.0" stroke-linejoin="round" stroke-linecap="round"/>
<g id="dtg-axes" stroke="#262626" fill="none">
<path d="M1071.6 34.8 H1770.5 M1071.6 582.8 H1770.5" stroke-width="4.4"/>
<path d="M1074.2 34.8 V582.8 M1767.9 34.8 V582.8" stroke-width="5.2"/>
<path d="M1074.2 113.1 h9 M1767.9 113.1 h-9 M1074.2 191.4 h9 M1767.9 191.4 h-9 M1074.2 269.7 h9 M1767.9 269.7 h-9 M1074.2 347.9 h9 M1767.9 347.9 h-9 M1074.2 426.2 h9 M1767.9 426.2 h-9 M1074.2 504.5 h9 M1767.9 504.5 h-9 M1173.3 582.8 v-9 M1272.4 582.8 v-9 M1371.5 582.8 v-9 M1371.5 34.8 v9 M1470.6 582.8 v-9 M1470.6 34.8 v9 M1569.7 582.8 v-9 M1569.7 34.8 v9 M1668.8 582.8 v-9 M1668.8 34.8 v9" stroke-width="4.2"/>
</g>
<g id="dtg-ylabels" font-family="'Liberation Sans', Arial, sans-serif" font-weight="bold" font-size="29.3" fill="#1f1f1f" text-anchor="end">
<text x="1061" y="122.2" textLength="86.5" lengthAdjust="spacingAndGlyphs">-0.005</text>
<text x="1061" y="200.5" textLength="69.5" lengthAdjust="spacingAndGlyphs">-0.01</text>
<text x="1061" y="278.8" textLength="86.5" lengthAdjust="spacingAndGlyphs">-0.015</text>
<text x="1061" y="357" textLength="69.5" lengthAdjust="spacingAndGlyphs">-0.02</text>
<text x="1061" y="435.3" textLength="86.5" lengthAdjust="spacingAndGlyphs">-0.025</text>
<text x="1061" y="513.6" textLength="69.5" lengthAdjust="spacingAndGlyphs">-0.03</text>
<text x="1061" y="591.9" textLength="86.5" lengthAdjust="spacingAndGlyphs">-0.035</text>
</g>
<text x="1058.8" y="44.4" font-family="'Liberation Sans', Arial, sans-serif" font-weight="bold" font-size="23" fill="#1f1f1f" text-anchor="end" textLength="15" lengthAdjust="spacingAndGlyphs">0</text>
<clipPath id="c0"><rect x="1040" y="30" width="32.2" height="40"/></clipPath>
<text x="1064" y="60.4" clip-path="url(#c0)" font-family="'Liberation Sans', Arial, sans-serif" font-weight="bold" font-size="34.5" fill="#000">0</text>
<g id="dtg-xlabels" font-family="'Liberation Sans', Arial, sans-serif" font-weight="bold" font-size="27" fill="#1f1f1f" text-anchor="middle">
<text x="1072.7" y="622.5" textLength="16.5" lengthAdjust="spacingAndGlyphs">0</text>
<text x="1171.8" y="622.5" textLength="51" lengthAdjust="spacingAndGlyphs">100</text>
<text x="1270.9" y="622.5" textLength="51" lengthAdjust="spacingAndGlyphs">200</text>
<text x="1370" y="622.5" textLength="51" lengthAdjust="spacingAndGlyphs">300</text>
<text x="1469.1" y="622.5" textLength="51" lengthAdjust="spacingAndGlyphs">400</text>
<text x="1568.2" y="622.5" textLength="51" lengthAdjust="spacingAndGlyphs">500</text>
<text x="1667.3" y="622.5" textLength="51" lengthAdjust="spacingAndGlyphs">600</text>
<text x="1766.4" y="622.5" textLength="51" lengthAdjust="spacingAndGlyphs">700</text>
</g>
<text transform="translate(960.4 311) rotate(-90)" font-family="'Liberation Sans', Arial, sans-serif" font-weight="bold" font-size="29" fill="#1f1f1f" text-anchor="middle" textLength="168" lengthAdjust="spacingAndGlyphs">DTG (%min)</text>
<text x="1418.7" y="663.3" font-family="'Liberation Sans', Arial, sans-serif" font-weight="bold" font-size="27.5" fill="#1f1f1f" text-anchor="middle" textLength="240" lengthAdjust="spacingAndGlyphs">Temperature (<tspan font-size="18" dy="-8">o</tspan><tspan dy="8">C)</tspan></text>
<path id="dtg-blue" d="M1106.5 35.2 C1113 35.2 1138.4 35 1149.8 35.2 C1161.1 35.3 1174.1 36.1 1182.2 36.5 C1190.3 36.8 1197.4 37.3 1203.9 37.3 C1210.4 37.3 1220.3 36.6 1225.5 36.5 C1230.7 36.3 1233.6 36.1 1238.5 36.5 C1243.4 36.8 1251.8 37.7 1258 38.6 C1264.2 39.6 1273.1 41.5 1279.6 42.7 C1286.1 44 1295.8 45.9 1301.3 47.1 C1306.8 48.2 1312.5 49.6 1316.4 50.3 C1320.3 51 1323 51.7 1327.2 51.6 C1331.5 51.5 1339.4 50.6 1344.6 49.9 C1349.8 49.1 1357.3 47.1 1361.9 46.4 C1366.4 45.8 1371.3 45.3 1374.9 45.5 C1378.4 45.7 1381.7 46.1 1385.7 47.7 C1389.7 49.3 1397.4 52.6 1401.5 56 C1405.6 59.4 1410 65.9 1413.1 70.4 C1416.1 75 1419.8 81.3 1421.7 86.3 C1423.6 91.3 1424.7 95.4 1426 103.6 C1427.3 111.8 1428.8 128.5 1430.3 141 C1431.9 153.6 1434.2 171.6 1436.1 187.1 C1438.1 202.7 1441.2 226.6 1443.3 244.8 C1445.5 262.9 1448.4 287.9 1450.5 308.2 C1452.7 328.5 1455.8 359.5 1457.7 380.2 C1459.7 401 1462.1 429.2 1463.5 446.5 C1464.9 463.8 1466.4 484.7 1467.2 495.5 C1468.1 506.3 1468.6 513.5 1469.3 518.6 C1469.9 523.7 1470.6 529.5 1471.3 529.5 C1471.9 529.5 1472.8 525.8 1473.6 518.6 C1474.4 511.3 1475.4 497.5 1476.5 481.1 C1477.5 464.7 1479.5 432.8 1480.8 409 C1482.1 385.3 1483.8 348.5 1485.1 322.6 C1486.4 296.7 1488.1 259 1489.4 236.1 C1490.7 213.2 1492.2 187.1 1493.7 169.9 C1495.3 152.6 1497.8 133 1499.5 120.9 C1501.2 108.8 1503.5 96.9 1505.3 89.2 C1507 81.4 1508.9 74 1511 69 C1513.2 64 1516.7 59.4 1519.7 56 C1522.7 52.7 1527.8 48.8 1531.2 46.5 C1534.7 44.2 1538.8 42.1 1542.7 40.7 C1546.6 39.4 1550.1 38 1557.1 37.3 C1564.2 36.6 1576.1 36 1590 35.9 C1603.9 35.7 1624.2 36 1650 36 C1675.8 36 1745.2 36 1762 36" fill="none" stroke="#0808ff" stroke-width="4.5" stroke-linejoin="round" stroke-linecap="round"/>
<path id="dtg-red" d="M1106.5 36.2 C1111.3 36.4 1130.8 36.8 1138.9 37.3 C1147.1 37.9 1154.1 38.9 1160.6 39.9 C1167.1 40.9 1177 42.9 1182.2 43.8 C1187.4 44.7 1191.6 45.5 1195.2 46 C1198.8 46.4 1202.8 46.9 1206 46.8 C1209.3 46.8 1213.6 46.4 1216.9 45.5 C1220.1 44.7 1224.4 42.7 1227.7 41.2 C1230.9 39.7 1232.3 36.4 1238.5 35.6 C1244.7 34.8 1261 35.7 1268.8 36 C1276.6 36.3 1284 37.2 1290.5 37.7 C1296.9 38.3 1304 39.3 1312.1 39.9 C1320.2 40.5 1335.5 41.1 1344.6 41.6 C1353.7 42.2 1366.2 42.9 1372.7 43.4 C1379.2 43.9 1383.5 43.9 1387.9 44.9 C1392.2 45.9 1397.7 48.2 1401.5 50.3 C1405.3 52.4 1410 56.1 1413.1 58.9 C1416.1 61.7 1419.5 65.3 1421.7 69 C1423.9 72.7 1425.7 77.3 1427.5 83.4 C1429.2 89.5 1431.3 100.3 1433.2 109.3 C1435.2 118.4 1438.3 132.2 1440.4 143.9 C1442.6 155.6 1445.5 175.5 1447.6 187.1 C1449.8 198.8 1452.7 211.8 1454.8 221.7 C1457 231.7 1460.3 245.6 1462 253.4 C1463.8 261.2 1465.3 269.3 1466.4 273.6 C1467.4 277.9 1468.4 281.8 1469.3 282.2 C1470.1 282.7 1471.3 279.9 1472.1 276.5 C1473 273 1474.1 266.1 1475 259.2 C1475.9 252.3 1476.8 242 1477.9 230.4 C1479 218.7 1480.9 195.6 1482.2 181.4 C1483.5 167.1 1485.2 147.4 1486.5 135.3 C1487.8 123.2 1489.6 109.6 1490.9 100.7 C1492.2 91.8 1493.9 82.2 1495.2 76.2 C1496.5 70.1 1498 64 1499.5 60.3 C1501 56.7 1503.1 53.6 1505.3 51.7 C1507.4 49.8 1510.9 48.3 1513.9 47.4 C1516.9 46.4 1522 46.2 1525.4 45.4 C1528.9 44.5 1533.1 42.7 1537 41.6 C1540.9 40.5 1546.6 38.6 1551.4 37.9 C1556.1 37.1 1562.9 36.8 1568.7 36.4 C1574.5 36.1 1577.8 35.7 1590 35.6 C1602.2 35.4 1624.2 35.6 1650 35.6 C1675.8 35.6 1745.2 35.5 1762 35.5" fill="none" stroke="#ff0a0a" stroke-width="4.5" stroke-linejoin="round" stroke-linecap="round"/>
</g>
<g id="pB">
<g id="nmr-axis" stroke="#262626" fill="none">
<path d="M130 2192.3 H2167.5" stroke-width="9"/>
<path d="M191.7 2192.3 V2164.4 M664.4 2192.3 V2164.4 M1137.1 2192.3 V2164.4 M1609.8 2192.3 V2164.4 M2082.5 2192.3 V2164.4" stroke-width="9.5"/>
</g>
<g id="nmr-xlabels" font-family="'Liberation Sans', Arial, sans-serif" font-weight="bold" font-size="53" fill="#222" text-anchor="middle" letter-spacing="1">
<text x="190.1" y="2270.5">200</text>
<text x="662.8" y="2270.5">150</text>
<text x="1135.5" y="2270.5">100</text>
<text x="1608.2" y="2270.5">50</text>
<text x="2080.9" y="2270.5">0</text>
</g>
<g id="cs-label" font-family="'Liberation Sans', Arial, sans-serif" font-weight="bold" font-size="57" fill="#222">
<text x="748.4" y="2349" textLength="266" lengthAdjust="spacingAndGlyphs">Chemical</text>
<text x="1031" y="2349" textLength="125.5" lengthAdjust="spacingAndGlyphs">shift</text>
<text x="1168.2" y="2349" textLength="164" lengthAdjust="spacingAndGlyphs">(ppm)</text>
</g>
<text x="263.6" y="1475.8" font-family="'Liberation Sans', Arial, sans-serif" font-size="75.5" fill="#000" textLength="43.5" lengthAdjust="spacingAndGlyphs">B</text>
<path id="nmr-blue-a" d="M163 2121.5 L164.7 2116.9 L166.4 2118 L168.1 2118.8 L169.8 2116.3 L171.5 2117.9 L173.2 2117.9 L174.9 2114.2 L176.6 2120.1 L178.3 2119.2 L180 2116.6 L181.7 2117.6 L183.4 2119 L185.1 2117.4 L186.8 2117.4 L188.5 2114.9 L190.2 2119.1 L191.9 2118.2 L193.6 2118.5 L195.3 2114.7 L197 2121.4 L198.7 2118.2 L200.4 2117.1 L202.1 2122.2 L203.8 2117.8 L205.5 2114.9 L207.2 2117.1 L208.9 2113.1 L210.6 2120.1 L212.3 2117 L214 2116.4 L215.7 2119.8 L217.4 2113.2 L219.1 2117 L220.8 2110.7 L222.5 2112.8 L224.2 2110.8 L225.9 2115.5 L227.6 2115.3 L229.3 2110.1 L231 2111.7 L232.7 2109.2 L234.4 2110.5 L236.1 2107.5 L237.8 2105.3 L239.5 2104.9 L241.2 2109.2 L242.9 2112.9 L244.6 2108.5 L246.3 2106.6 L248 2111.7 L249.7 2108.6 L251.4 2108.8 L253.1 2109.6 L254.8 2109.2 L256.5 2109.3 L258.2 2107.4 L259.9 2111.8 L261.6 2111 L263.3 2114.1 L265 2111.3 L266.7 2108.4 L268.4 2112.7 L270.1 2116.8 L271.8 2112.9 L273.5 2112.2 L275.2 2112 L276.9 2112.7 L278.6 2114.7 L280.3 2113.3 L282 2119.3 L283.7 2115.9 L285.4 2117.2 L287.1 2120.4 L288.8 2120.9 L290.5 2117.4 L292.2 2118.5 L293.9 2119.3 L295.6 2117.3 L297.3 2114 L299 2119 L300.7 2119.5 L302.4 2118.4 L304.1 2115.5 L305.8 2117 L307.5 2116.1 L309.2 2116.7 L310.9 2120 L312.6 2120.4 L314.3 2118.6 L316 2118.3 L317.7 2118.5 L319.4 2117 L321.1 2116.8 L322.8 2115.5 L324.5 2116.7 L326.2 2121.5 L327.9 2118.6 L329.6 2116 L331.3 2115.6 L333 2114.6 L334.7 2117 L336.4 2116.8 L338.1 2112.7 L339.8 2116.4 L341.5 2114 L343.2 2117.9 L344.9 2115 L346.6 2118 L348.3 2113.2 L350 2113.3 L351.7 2114.3 L353.4 2115.6 L355.1 2114.3 L356.8 2110.3 L358.5 2113.3 L360.2 2113.4 L361.9 2112.9 L363.6 2112.9 L365.3 2118.4 L367 2114.4 L368.7 2113.9 L370.4 2117.4 L372.1 2116.8 L373.8 2116.8 L375.5 2119.1 L377.2 2118.9 L378.9 2118.1 L380.6 2118.8 L382.3 2116.8 L384 2114.4 L385.7 2114.4 L387.4 2113.7 L389.1 2116 L390.8 2114 L392.5 2113.2 L394.2 2118 L395.9 2115.7 L397.6 2114.8 L399.3 2119.6 L401 2117.3 L402.7 2119.8 L404.4 2117.6 L406.1 2116.3 L407.8 2116 L409.5 2117.5 L411.2 2118 L412.9 2116.8 L414.6 2117.9 L416.3 2115.2 L418 2118.4 L419.7 2114.6 L421.4 2117.9 L423.1 2119.7 L424.8 2120.5 L426.5 2121.8 L428.2 2114.8 L429.9 2119.7 L431.6 2120.6 L433.3 2120 L435 2116 L436.7 2118.4 L438.4 2120.7 L440.1 2112.9 L441.8 2116.3 L443.5 2116.8 L445.2 2112.3 L446.9 2114.2 L448.6 2110 L450.3 2109.8 L452 2109.1 L453.7 2111.1 L455.4 2110.4 L457.1 2112.5 L458.8 2108.4 L460.5 2110 L462.2 2112.2 L463.9 2111.2 L465.6 2107.2 L467.3 2111.3 L469 2108.8 L470.7 2110.5 L472.4 2110.2 L474.1 2112 L475.8 2109.6 L477.5 2105.4 L479.2 2106.3 L480.9 2110.6 L482.6 2108.4 L484.3 2111.2 L486 2107.2 L487.7 2102.7 L489.4 2104.1 L491.1 2097.8 L492.8 2092.8 L494.5 2099.1 L496.2 2088.3 L497.9 2091.3 L499.6 2089.6 L501.3 2085.5 L503 2080.1 L504.7 2085.4 L506.4 2079.9 L508.1 2079.7 L509.8 2081.4 L511.5 2083.4 L513.2 2082 L514.9 2082.7 L516.6 2079.7 L518.3 2080.4 L520 2078.6 L521.7 2080.6 L523.4 2082.8 L525.1 2081.1 L526.8 2083 L528.5 2081 L530.2 2081.2 L531.9 2082.8 L533.6 2082.6 L535.3 2084.5 L537 2083.8 L538.7 2087.4 L540.4 2084 L542.1 2085.2 L543.8 2084.8 L545.5 2088.3 L547.2 2090.9 L548.9 2089.2 L550.6 2092 L552.3 2094.8 L554 2094.7 L555.7 2095.6 L557.4 2100.4 L559.1 2100.3 L560.8 2102.6 L562.5 2105.8 L564.2 2105.9 L565.9 2102.9 L567.6 2102.6 L569.3 2104.5 L571 2103.8 L572.7 2100.2 L574.4 2107 L576.1 2104.5 L577.8 2106.1 L579.5 2102.3 L581.2 2107.6 L582.9 2103.8 L584.6 2105 L586.3 2102.5 L588 2105.3 L589.7 2105.4 L591.4 2105.6 L593.1 2107.1 L594.8 2106.5 L596.5 2108.7 L598.2 2105.8 L599.9 2104.9 L601.6 2107.2 L603.3 2108.7 L605 2110.6 L606.7 2111.5 L608.4 2107.9 L610.1 2114.2 L611.8 2118.3 L613.5 2117.2 L615.2 2116.6 L616.9 2117.9 L618.6 2115.8 L620.3 2117.8 L622 2116 L623.7 2118.6 L625.4 2116.3 L627.1 2113.3 L628.8 2115.7 L630.5 2116 L632.2 2113.2 L633.9 2113.9 L635.6 2110.4 L637.3 2117.5 L639 2114.8 L640.7 2111.9 L642.4 2113.1 L644.1 2116.7 L645.8 2119.2 L647.5 2117.8 L649.2 2119.4 L650.9 2116.1 L652.6 2115.3 L654.3 2119.7 L656 2118.6 L657.7 2117.2 L659.4 2119.6 L661.1 2114.6 L662.8 2115.5 L664.5 2118.2 L666.2 2119.6 L667.9 2115.5 L669.6 2118.7 L671.3 2113.6 L673 2115.2 L674.7 2113.9 L676.4 2110.7 L678.1 2114.8 L679.8 2116.4 L681.5 2114.3 L683.2 2114.7 L684.9 2117.9 L686.6 2112.5 L688.3 2112.2 L690 2114.2 L691.7 2113.2 L693.4 2118.7 L695.1 2116.7 L696.8 2114.5 L698.5 2115.2 L700.2 2122.5 L701.9 2114.1 L703.6 2113.5 L705.3 2115.5 L707 2116 L708.7 2114.9 L710.4 2112.3 L712.1 2111.5 L713.8 2115 L715.5 2113.4 L717.2 2109.8 L718.9 2115.5 L720.6 2114.4 L722.3 2112.1 L724 2111.8 L725.7 2112.6 L727.4 2110.6 L729.1 2109.7 L730.8 2113.9 L732.5 2110.9 L734.2 2115.5 L735.9 2112.3 L737.6 2115.8 L739.3 2116.4 L741 2120.4 L742.7 2114.5 L744.4 2113.9 L746.1 2115.6 L747.8 2114.6 L749.5 2115.8 L751.2 2118 L752.9 2118.8 L754.6 2120.7 L756.3 2114.5 L758 2119.7 L759.7 2116.5 L761.4 2110 L763.1 2103.8 L764.8 2106.5 L766.5 2105.2 L768.2 2098.5 L769.9 2101.8 L771.6 2099.6 L773.3 2097.4 L775 2099.4 L776.7 2099.2 L778.4 2095.1 L780.1 2095.6 L781.8 2093.3 L783.5 2093.5 L785.2 2095.7 L786.9 2097.1 L788.6 2095.2 L790.3 2092.2 L792 2098.5 L793.7 2094.3 L795.4 2098.4 L797.1 2102.3 L798.8 2098.9 L800.5 2096.9 L802.2 2096.7 L803.9 2102.7 L805.6 2100.6 L807.3 2102.3 L809 2104.7 L810.7 2104.2 L812.4 2105.2 L814.1 2105.5 L815.8 2102.6 L817.5 2107.4 L819.2 2112 L820.9 2112.6 L822.6 2113.8 L824.3 2112.5 L826 2113 L827.7 2114.3 L829.4 2110.6 L831.1 2111.8 L832.8 2108.9 L834.5 2114.2 L836.2 2112.2 L837.9 2114 L839.6 2117.3 L841.3 2117.3 L843 2115.9 L844.7 2118.7 L846.4 2114.9 L848.1 2118.9 L849.8 2118.3 L851.5 2114.6 L853.2 2120.8 L854.9 2116.6 L856.6 2119.5 L858.3 2117.2 L860 2120.2 L861.7 2120.9 L863.4 2116.4 L865.1 2115 L866.8 2117.9 L868.5 2120 L870.2 2117.5 L871.9 2117 L873.6 2119.3 L875.3 2112.5 L877 2116.9 L878.7 2115.5 L880.4 2119 L882.1 2116.9 L883.8 2116.1 L885.5 2117.7 L887.2 2115.4 L888.9 2118.5 L890.6 2117.1 L892.3 2117.7 L894 2117.1 L895.7 2120.4 L897.4 2118.2 L899.1 2119.4 L900.8 2119.2 L902.5 2116.5 L904.2 2119.2 L905.9 2118.7 L907.6 2118.5 L909.3 2116.9 L911 2116.8 L912.7 2119.2 L914.4 2122.1 L916.1 2115.6 L917.8 2118.4 L919.5 2116.4 L921.2 2118.8 L922.9 2117.9 L924.6 2119.1 L926.3 2111 L928 2115.5 L929.7 2114.6 L931.4 2116.3 L933.1 2114.9 L934.8 2115 L936.5 2117.7 L938.2 2120.2 L939.9 2110.1 L941.6 2115.3 L943.3 2116.5 L945 2115.8 L946.7 2115 L948.4 2112.8 L950.1 2113.5 L951.8 2116.9 L953.5 2117.6 L955.2 2115.7 L956.9 2113.9 L958.6 2116.1 L960.3 2115.5 L962 2117.3 L963.7 2116.6 L965.4 2115.2 L967.1 2117.1 L968.8 2114.4 L970.5 2118.8 L972.2 2119.7 L973.9 2114.9 L975.6 2118.4 L977.3 2115.6 L979 2120.1 L980.7 2119.8 L982.4 2117.3 L984.1 2119.9 L985.8 2116.8 L987.5 2116.3 L989.2 2116.4 L990.9 2117.3 L992.6 2116.9 L994.3 2117.8 L996 2116.2 L997.7 2119 L999.4 2119.5 L1001.1 2116.3 L1002.8 2114.3 L1004.5 2118.7 L1006.2 2119.5 L1007.9 2116.8 L1009.6 2114.4 L1011.3 2117.6 L1013 2120.2 L1014.7 2113 L1016.4 2117.9 L1018.1 2116.2 L1019.8 2115 L1021.5 2117.8 L1023.2 2113.9 L1024.9 2117.2 L1026.6 2119.4 L1028.3 2117 L1030 2114.8 L1031.7 2112.9 L1033.4 2113.9 L1035.1 2112.8 L1036.8 2120 L1038.5 2116.1 L1040.2 2114.4 L1041.9 2113.9 L1043.6 2114.4 L1045.3 2114.8 L1047 2111.1 L1048.7 2115.6 L1050.4 2108.8 L1052.1 2107 L1053.8 2108.8 L1055.5 2113 L1057.2 2114.6 L1058.9 2112.7 L1060.6 2115.9 L1062.3 2115.8 L1064 2116.8 L1065.7 2116.3 L1067.4 2114 L1069.1 2113.5 L1070.8 2116.6 L1072.5 2113.9 L1074.2 2119.4 L1075.9 2116.8 L1077.6 2114.7 L1079.3 2116.3 L1081 2116.1 L1082.7 2117 L1084.4 2119.4 L1086.1 2114.6 L1087.8 2113.8 L1089.5 2118.6 L1091.2 2117.5 L1092.9 2118.2 L1094.6 2118.8 L1096.3 2117.4 L1098 2119.4 L1099.7 2115.8 L1101.4 2117.8 L1103.1 2115.9 L1104.8 2115.2 L1106.5 2118.9 L1108.2 2118.7 L1109.9 2113.4 L1111.6 2115.1 L1113.3 2118.1 L1115 2119.7 L1116.7 2116 L1118.4 2117 L1120.1 2114.3 L1121.8 2122.6 L1123.5 2118.2 L1125.2 2119.1 L1126.9 2118.6 L1128.6 2119.1 L1130.3 2118.4 L1132 2116.4 L1133.7 2118.6 L1135.4 2117.2 L1137.1 2119.7 L1138.8 2115.4 L1140.5 2115.8 L1142.2 2118.3 L1143.9 2119.5 L1145.6 2117.1 L1147.3 2115.3 L1149 2116.5 L1150.7 2115.7 L1152.4 2120.6 L1154.1 2118.5 L1155.8 2119.3 L1157.5 2117.3 L1159.2 2115.6 L1160.9 2119.2 L1162.6 2120.3 L1164.3 2118 L1166 2116.8 L1167.7 2119.2 L1169.4 2116.1 L1171.1 2118.6 L1172.8 2115.5 L1174.5 2115 L1176.2 2118.2 L1177.9 2117.8 L1179.6 2121.1 L1181.3 2116.6 L1183 2117.2 L1184.7 2114.8 L1186.4 2113.3 L1188.1 2113.4 L1189.8 2117.9 L1191.5 2114.3 L1193.2 2118.9 L1194.9 2119.3 L1196.6 2115.6 L1198.3 2119.4 L1200 2116.2 L1201.7 2117.9 L1203.4 2114.9 L1205.1 2117.2 L1206.8 2113 L1208.5 2116.1 L1210.2 2113.6 L1211.9 2114.1 L1213.6 2115.5 L1215.3 2114.3 L1217 2113.6 L1218.7 2115.1 L1220.4 2115.1 L1222.1 2110.3 L1223.8 2114.2 L1225.5 2114.2 L1227.2 2111.4 L1228.9 2114.1 L1230.6 2110.9 L1232.3 2117 L1234 2113.8 L1235.7 2114.5 L1237.4 2117.5 L1239.1 2115.1 L1240.8 2116.9 L1242.5 2113.8 L1244.2 2115.2 L1245.9 2113.8 L1247.6 2116.6 L1250 2121.1 L1251.7 2117 L1253.4 2116.4 L1255.1 2112 L1256.8 2116.8 L1258.5 2115.9 L1260.2 2115.3 L1261.9 2116.6 L1263.6 2116.6 L1265.3 2113.5 L1267 2113.6 L1268.7 2114.1 L1270.4 2116.1 L1272.1 2115.6 L1273.8 2111.8 L1275.5 2111.9 L1277.2 2115.1 L1278.9 2116.4 L1280.6 2113.1 L1282.3 2111.6 L1284 2114.7 L1285.7 2111.7 L1287.4 2113.4 L1289.1 2114.7 L1290.8 2112.7 L1292.5 2111.3 L1294.2 2112.1 L1295.9 2108.8 L1297.6 2109.1 L1299.3 2107.7 L1301 2107.8 L1302.7 2106.6 L1304.4 2106.4 L1306.1 2105 L1307.8 2104.8 L1309.5 2103.7 L1311.2 2103.1 L1312.9 2104.2 L1314.6 2097.5 L1316.3 2103.8 L1318 2102.4 L1319.7 2102 L1321.4 2105.4 L1323.1 2107.4 L1324.8 2111 L1326.5 2109.5 L1328.2 2114.4 L1329.9 2116.7 L1331.6 2113.1 L1333.3 2113.9 L1335 2117.1 L1336.7 2117.1 L1338.4 2117.7 L1340.1 2116.5 L1341.8 2116.1 L1343.5 2115.4 L1345.2 2117.6 L1346.9 2114.6 L1348.6 2116.8 L1350.3 2118.6 L1352 2115.8 L1353.7 2121.2 L1355.4 2116.4 L1357.1 2116.9 L1358.8 2120.3 L1360.5 2113.7 L1362.2 2114.4 L1363.9 2118.8 L1365.6 2114.2 L1367.3 2115.9 L1369 2118.1 L1370.7 2118.4 L1372.4 2118.9 L1374.1 2118.3 L1375.8 2120 L1377.5 2119.2 L1379.2 2118.2 L1380.9 2115.6 L1382.6 2115.4 L1384.3 2112.9 L1386 2117.4 L1387.7 2111.8 L1389.4 2116.1 L1391.1 2117 L1392.8 2110.7 L1394.5 2110.5 L1396.2 2110.3 L1397.9 2115.6 L1399.6 2115.2 L1401.3 2117.3 L1403 2116.2 L1404.7 2116.3 L1406.4 2118.9 L1408.1 2114.2 L1409.8 2115.8 L1411.5 2115.8 L1413.2 2116.5 L1414.9 2112.1 L1416.6 2116.2 L1418.3 2114.4 L1420 2114.8 L1421.7 2112.9 L1423.4 2109.3 L1425.1 2111.4 L1426.8 2114.4 L1428.5 2113.1 L1430.2 2113.2 L1431.9 2116.9 L1433.6 2117.9 L1435.3 2107.7 L1437 2104.3 L1438.7 2091.7 L1440.4 2093.3 L1442.1 2105.2 L1443.8 2106.1 L1445.5 2109.1 L1447.2 2110.4 L1448.9 2108.5 L1450.6 2108.7 L1452.3 2106.4 L1454 2103.2 L1455.7 2107.4 L1457.4 2108.1 L1459.1 2112.1 L1460.8 2106 L1462.5 2107 L1464.2 2105 L1465.9 2104.4 L1467.6 2108 L1469.3 2106.4 L1471 2105.7 L1472.7 2106 L1474.4 2104.6 L1476.1 2098.7 L1477.8 2098.2 L1479.5 2101.1 L1481.2 2099.2 L1482.9 2096.9 L1484.6 2095.5 L1486.3 2093.7 L1488 2087.1 L1489.7 2087.8 L1491.4 2081.9 L1493.1 2076.7 L1494.8 2069.2 L1496.5 2065.4 L1498.2 2061.8 L1499.9 2055.3 L1501.6 2047.9 L1503.3 2042.2 L1505 2035.4 L1506.7 2024.7 L1508.4 2020.9 L1510.1 2017.1 L1511.8 2017.4 L1513.5 2027.5 L1515.2 2030 L1516.9 2031.9 L1518.6 2032.8 L1520.3 2038.7 L1522 2046.3 L1523.7 2051.3 L1525.4 2057.9 L1527.1 2059.8 L1528.8 2064.5 L1530.5 2068.9 L1532.2 2070.6 L1533.9 2072.9 L1535.6 2071.8 L1537.3 2072.2 L1539 2068.4 L1540.7 2069.6 L1542.4 2062.4 L1544.1 2058.9 L1545.8 2059.2 L1547.5 2062.3 L1549.2 2059.1 L1550.9 2056.4 L1552.6 2051.3 L1554.3 2054.4 L1556 2053.1 L1557.7 2060.3 L1559.4 2059 L1561.1 2058.3 L1562.8 2055.6 L1564.5 2050.6 L1566.2 2048.8 L1567.9 2049.2 L1569.6 2049.9 L1571.3 2042.8 L1573 2041.4 L1574.7 2040.5 L1576.4 2032.3 L1578.1 2027.2 L1579.8 2024.5 L1581.5 2017.8 L1583.2 2009.2 L1584.9 2006.2 L1586.6 1998 L1588.3 2000.6 L1590 2010.1 L1591.7 2018.9 L1593.4 2022.9 L1595.1 2038.3 L1596.8 2053.9 L1598.5 2059.3 L1600.2 2070.3 L1601.9 2074.5 L1603.6 2078.6 L1605.3 2083.3 L1607 2088.6 L1608.7 2093 L1610.4 2094.2 L1612.1 2088.7 L1613.8 2082.4 L1615.5 2083.4 L1617.2 2079.8 L1618.9 2078.1 L1620.6 2074.1 L1622.3 2068.6 L1624 2074.2 L1625.7 2070.8 L1627.4 2074.8 L1629.1 2076.6 L1630.8 2070.3 L1632.5 2066.1 L1634.2 2052.2 L1635.9 2046.3 L1637.6 2027.7 L1639.3 2006.5 L1641 1985.6 L1642.7 1956.2 L1644.4 1933.5 L1646.1 1915.7 L1647.8 1899.1 L1649.5 1892.8 L1651.2 1908.5 L1652.9 1922.5 L1654.6 1962.6 L1656.3 1997.3 L1658 2025 L1659.7 2046.3 L1661.4 2050.1 L1663.1 2053.4 L1664.8 2050.7 L1666.5 2049.7 L1668.2 2048.4 L1669.9 2047.3 L1671.6 2039.8 L1673.3 2036.5 L1675 2034.2 L1676.7 2031.4 L1678.4 2030.5 L1680.1 2034.4 L1681.8 2035.8 L1683.5 2032.4 L1685.2 2034.8 L1686.9 2037.9 L1688.6 2041.5 L1690.3 2048.3 L1692 2049.4 L1693.7 2051.8 L1695.4 2054.1 L1697.1 2051.1 L1698.8 2054 L1700.5 2057.9 L1702.2 2063.1 L1703.9 2062.1 L1705.6 2063.7 L1707.3 2064.8 L1709 2065 L1710.7 2064.9 L1712.4 2063.9 L1714.1 2063.8 L1715.8 2070.3 L1717.5 2070.4 L1719.2 2069.1 L1720.9 2071.6 L1722.6 2074.1 L1724.3 2074.2 L1726 2080.2 L1727.7 2080.6 L1729.4 2082.8 L1731.1 2085.3 L1732.8 2084.3 L1734.5 2083.9 L1736.2 2081.4 L1737.9 2078.4 L1739.6 2077.6 L1741.3 2080.4 L1743 2075.9 L1744.7 2078.6 L1746.4 2071.3 L1748.1 2065.9 L1749.8 2057.5 L1751.5 2050.7 L1753.2 2047.9 L1754.9 2063.9 L1756.6 2066.6 L1758.3 2072.8 L1760 2079.4 L1761.7 2083.8 L1763.4 2071.6 L1765.1 2053.6 L1766.8 2036.2 L1768.5 2025.8 L1770.2 2028.7 L1771.9 2047.1 L1773.6 2052.3 L1775.3 2058 L1777 2061.3 L1778.7 2070.2 L1780.4 2079.4 L1782.1 2082.2 L1783.8 2086.5 L1785.5 2088.3 L1787.2 2089.4 L1788.9 2092.7 L1790.6 2092.7 L1792.3 2097.2 L1794 2095.3 L1795.7 2086.9 L1797.4 2088.7 L1799.1 2086.9 L1800.8 2090.2 L1802.5 2088.7 L1804.2 2085.2 L1805.9 2079.1 L1807.6 2090 L1809.3 2098.5 L1811 2095 L1812.7 2098.1 L1814.4 2098 L1816.1 2097 L1817.8 2094.3 L1819.5 2097.7 L1821.2 2092.5 L1822.9 2093.6 L1824.6 2090.7 L1826.3 2094.8 L1828 2089.8 L1829.7 2093.5 L1831.4 2089 L1833.1 2087.1 L1834.8 2084.1 L1836.5 2081.5 L1838.2 2089.4 L1839.9 2095.1 L1841.6 2095.2 L1843.3 2091.4 L1845 2093.3 L1846.7 2088.2 L1848.4 2087.6 L1850.1 2082.9 L1851.8 2077.2 L1853.5 2075.7 L1855.2 2077.5 L1856.9 2070.6 L1858.6 2070.6 L1860.3 2071.3 L1862 2072.3 L1863.7 2072 L1865.4 2067.8 L1867.1 2074.7 L1868.8 2070.5 L1870.5 2071 L1872.2 2071.1 L1873.9 2069.3 L1875.6 2065.9 L1877.3 2065.1 L1879 2068.8 L1880.7 2064.9 L1882.4 2063.9 L1884.1 2066.1 L1885.8 2062.4 L1887.5 2059.3 L1889.2 2055.5 L1890.9 2045.2 L1892.6 2039.7 L1894.3 2030.1 L1896 2021.3 L1900 1956 L1902.7 1900" fill="none" stroke="#2020ff" stroke-width="2.3" stroke-linejoin="round" stroke-linecap="round"/>
<rect x="1908.8" y="1441" width="4" height="134" fill="#8c8cff"/>
<rect x="1908.8" y="1575" width="5.7" height="66" fill="#d8d8ff"/>
<path id="nmr-blue-peak" d="M1902.7 1900 L1902.7 1879 L1904.2 1879 L1904.2 1749 L1906.5 1749 L1906.5 1641 L1908.8 1641 L1908.8 1441 L1909.8 1441 L1909.8 1350 L1910.4 1350 L1910.4 1441 L1912.8 1441 L1912.8 1575 L1914.5 1575 L1914.5 1778 L1916 1778 L1916 1900" fill="none" stroke="#5a5aff" stroke-width="2" stroke-linejoin="miter"/>
<path d="M1910.1 1366 V1441" fill="none" stroke="#1616ff" stroke-width="3.4"/>
<path id="nmr-blue-b" d="M1916 1900 L1918.5 1956 L1920.9 2003.1 L1922.6 2031.3 L1924.3 2054 L1926 2068.5 L1927.7 2081.9 L1929.4 2086.1 L1931.1 2093.2 L1932.8 2097 L1934.5 2101.1 L1936.2 2099.5 L1937.9 2102.9 L1939.6 2102.4 L1941.3 2104.4 L1943 2101.7 L1944.7 2102.5 L1946.4 2103.6 L1948.1 2106.1 L1949.8 2112.5 L1951.5 2109.3 L1953.2 2107.8 L1954.9 2105.6 L1956.6 2109.7 L1958.3 2111.3 L1960 2109.7 L1961.7 2113.4 L1963.4 2116.2 L1965.1 2113.1 L1966.8 2114.1 L1968.5 2115.8 L1970.2 2109 L1971.9 2111.4 L1973.6 2114.2 L1975.3 2110.3 L1977 2111.3 L1978.7 2113.1 L1980.4 2114.3 L1982.1 2114.7 L1983.8 2111.9 L1985.5 2113.7 L1987.2 2115.3 L1988.9 2114.5 L1990.6 2117.2 L1992.3 2114.5 L1994 2114.4 L1995.7 2118.4 L1997.4 2115 L1999.1 2113.3 L2000.8 2115.1 L2002.5 2115.7 L2004.2 2118.7 L2005.9 2119.5 L2007.6 2119.3 L2009.3 2118.3 L2011 2117.2 L2012.7 2119.8 L2014.4 2120.1 L2016.1 2115.5 L2017.8 2116.2 L2019.5 2116.2 L2021.2 2115 L2022.9 2115.3 L2024.6 2115.7 L2026.3 2113.5 L2028 2115.9 L2029.7 2118.4 L2031.4 2119.6 L2033.1 2117.9 L2034.8 2117.5 L2036.5 2119.1 L2038.2 2121.5 L2039.9 2116 L2041.6 2116.1 L2043.3 2116.5 L2045 2118.1 L2046.7 2115.4 L2048.4 2117.6 L2050.1 2115 L2051.8 2116.4 L2053.5 2114 L2055.2 2113 L2056.9 2114.6 L2058.6 2110.4 L2060.3 2110.6 L2062 2112.7 L2063.7 2112.2 L2065.4 2110.9 L2067.1 2110.9 L2068.8 2119.6 L2070.5 2118.7 L2072.2 2117.2 L2073.9 2114.1 L2075.6 2118.9 L2077.3 2120.4 L2079 2117.9 L2080.7 2119.2 L2082.4 2115.2 L2084.1 2116.1 L2085.8 2114 L2087.5 2112.6 L2089.2 2113.5 L2090.9 2111.9 L2092.6 2113.8 L2094.3 2115.4 L2096 2117.8 L2097.7 2119.2 L2099.4 2119.1 L2101.1 2115.8 L2102.8 2117.8 L2104.5 2113.1 L2106.2 2115.6 L2107.9 2116 L2109.6 2113.1 L2111.3 2118.1 L2113 2122.2 L2114.7 2121.1 L2116.4 2119.1 L2118.1 2118.6 L2119.8 2119.8 L2121.5 2119.2 L2123.2 2120.1 L2124.9 2118.5 L2126.6 2119.6 L2128.3 2118.3 L2130 2115.9 L2131.7 2115.1 L2133.4 2115.7 L2135.1 2117.3 L2136.8 2114.9 L2138.5 2118 L2140.2 2113.6 L2141.9 2115.8 L2143.6 2114.5 L2145.3 2116.6 L2147 2116.9 L2148.7 2117.1 L2150.4 2115.8 L2152.1 2117.1 L2153.8 2118.2 L2155.5 2121.7 L2157.2 2118.6 L2158.9 2120.6 L2160.6 2121.3 L2162.3 2118 L2164 2118.5 L2165.7 2115.4" fill="none" stroke="#2020ff" stroke-width="2.3" stroke-linejoin="round" stroke-linecap="round"/>
<path id="nmr-red" d="M162 2119.4 L163.7 2119.3 L165.4 2121 L167.1 2117.7 L168.8 2120.5 L170.5 2117.1 L172.2 2119.2 L173.9 2119.2 L175.6 2121.1 L177.3 2119.5 L179 2118.6 L180.7 2121.4 L182.4 2121.8 L184.1 2118.5 L185.8 2120.5 L187.5 2118.9 L189.2 2119.7 L190.9 2119.9 L192.6 2117.7 L194.3 2119.6 L196 2118 L197.7 2118.1 L199.4 2118.9 L201.1 2116.7 L202.8 2117.4 L204.5 2119.8 L206.2 2120.4 L207.9 2120.7 L209.6 2118.9 L211.3 2120.5 L213 2121.7 L214.7 2121.1 L216.4 2117.6 L218.1 2117.1 L219.8 2120.1 L221.5 2121.2 L223.2 2119.5 L224.9 2120.8 L226.6 2119.8 L228.3 2119.8 L230 2119.9 L231.7 2119.8 L233.4 2118.9 L235.1 2122.1 L236.8 2120.8 L238.5 2118.7 L240.2 2119.1 L241.9 2118 L243.6 2120.2 L245.3 2117.5 L247 2119 L248.7 2120.5 L250.4 2120.3 L252.1 2120.3 L253.8 2117.8 L255.5 2120.6 L257.2 2119.3 L258.9 2121.4 L260.6 2119.1 L262.3 2121.9 L264 2120.1 L265.7 2120.5 L267.4 2119 L269.1 2118.9 L270.8 2119 L272.5 2120.9 L274.2 2118.9 L275.9 2119.3 L277.6 2121.1 L279.3 2120.2 L281 2119.1 L282.7 2119.9 L284.4 2117.5 L286.1 2117.4 L287.8 2120.1 L289.5 2123.4 L291.2 2122.3 L292.9 2123 L294.6 2120.3 L296.3 2118.8 L298 2121 L299.7 2117.8 L301.4 2115.5 L303.1 2120.1 L304.8 2120.9 L306.5 2120.5 L308.2 2121.7 L309.9 2120.6 L311.6 2120 L313.3 2118 L315 2119.3 L316.7 2117.8 L318.4 2119 L320.1 2122.2 L321.8 2119.8 L323.5 2120 L325.2 2118.5 L326.9 2123.1 L328.6 2116.7 L330.3 2118.2 L332 2120.8 L333.7 2118.4 L335.4 2118.4 L337.1 2120.2 L338.8 2120.5 L340.5 2120.5 L342.2 2118.3 L343.9 2120.6 L345.6 2117.8 L347.3 2118.2 L349 2118.1 L350.7 2120 L352.4 2119 L354.1 2118.2 L355.8 2119.5 L357.5 2118.1 L359.2 2118.8 L360.9 2119.1 L362.6 2118.7 L364.3 2118.1 L366 2117.8 L367.7 2121 L369.4 2116.6 L371.1 2119.9 L372.8 2118.4 L374.5 2118.5 L376.2 2117 L377.9 2119.5 L379.6 2118.7 L381.3 2121 L383 2118.7 L384.7 2118 L386.4 2117.8 L388.1 2120.8 L389.8 2120.3 L391.5 2119 L393.2 2121.8 L394.9 2119.9 L396.6 2119.1 L398.3 2120.2 L400 2118 L401.7 2119.6 L403.4 2117.9 L405.1 2120.3 L406.8 2120.4 L408.5 2119.3 L410.2 2121 L411.9 2118.5 L413.6 2120.3 L415.3 2119.3 L417 2117.9 L418.7 2120.5 L420.4 2121.9 L422.1 2123.8 L423.8 2119.6 L425.5 2120.2 L427.2 2121.9 L428.9 2118 L430.6 2121.6 L432.3 2117.2 L434 2117.9 L435.7 2119.2 L437.4 2119 L439.1 2120.9 L440.8 2118 L442.5 2119.3 L444.2 2119 L445.9 2119.7 L447.6 2120.4 L449.3 2120.8 L451 2119.9 L452.7 2120 L454.4 2119.6 L456.1 2117.3 L457.8 2116.9 L459.5 2120 L461.2 2117.6 L462.9 2118.4 L464.6 2119.8 L466.3 2119 L468 2118.4 L469.7 2118.2 L471.4 2119.6 L473.1 2121.6 L474.8 2117.1 L476.5 2119.2 L478.2 2120.8 L479.9 2119.9 L481.6 2118.4 L483.3 2119 L485 2119.2 L486.7 2119.7 L488.4 2115.8 L490.1 2116.5 L491.8 2117.8 L493.5 2117.7 L495.2 2117.2 L496.9 2117.1 L498.6 2117.5 L500.3 2116.6 L502 2119.6 L503.7 2115 L505.4 2115.4 L507.1 2113.9 L508.8 2116.7 L510.5 2116.2 L512.2 2115.6 L513.9 2114.2 L515.6 2118.6 L517.3 2116.4 L519 2116.9 L520.7 2113.9 L522.4 2116.2 L524.1 2116.4 L525.8 2118.1 L527.5 2116.5 L529.2 2117.1 L530.9 2113.4 L532.6 2115.3 L534.3 2115.7 L536 2115.4 L537.7 2115.1 L539.4 2115.1 L541.1 2117.5 L542.8 2115.4 L544.5 2117.3 L546.2 2117.6 L547.9 2116.4 L549.6 2117.4 L551.3 2114.1 L553 2116.9 L554.7 2119.6 L556.4 2117.5 L558.1 2115.8 L559.8 2120.3 L561.5 2117.2 L563.2 2120.9 L564.9 2119 L566.6 2117.2 L568.3 2118.1 L570 2121.2 L571.7 2119.3 L573.4 2118.9 L575.1 2119.3 L576.8 2118.8 L578.5 2118.1 L580.2 2119.9 L581.9 2121.1 L583.6 2119.2 L585.3 2121.3 L587 2120.6 L588.7 2116.9 L590.4 2120.1 L592.1 2121 L593.8 2116.3 L595.5 2118.3 L597.2 2119.7 L598.9 2117.8 L600.6 2119.1 L602.3 2118.6 L604 2117.7 L605.7 2118.8 L607.4 2118.4 L609.1 2118.9 L610.8 2118.9 L612.5 2118 L614.2 2117.8 L615.9 2118.1 L617.6 2119.7 L619.3 2117.6 L621 2120.9 L622.7 2117.7 L624.4 2121.6 L626.1 2118.7 L627.8 2118.4 L629.5 2118.3 L631.2 2119.7 L632.9 2119.3 L634.6 2117.8 L636.3 2119.3 L638 2119.7 L639.7 2119.4 L641.4 2120.9 L643.1 2115.6 L644.8 2118.8 L646.5 2118.2 L648.2 2119.8 L649.9 2121.9 L651.6 2117.2 L653.3 2118 L655 2118.8 L656.7 2120.5 L658.4 2120.7 L660.1 2118.2 L661.8 2120.4 L663.5 2119.2 L665.2 2120.7 L666.9 2119.4 L668.6 2120.1 L670.3 2119.3 L672 2118.1 L673.7 2118 L675.4 2120 L677.1 2118.3 L678.8 2117.9 L680.5 2119 L682.2 2120 L683.9 2120.2 L685.6 2118.4 L687.3 2119.1 L689 2120.1 L690.7 2118.4 L692.4 2120.7 L694.1 2119.6 L695.8 2118 L697.5 2120.3 L699.2 2119 L700.9 2121.6 L702.6 2119.2 L704.3 2121.5 L706 2122.6 L707.7 2120.2 L709.4 2120.2 L711.1 2118.9 L712.8 2119.6 L714.5 2120.6 L716.2 2122.3 L717.9 2121.2 L719.6 2118.3 L721.3 2121.3 L723 2118.5 L724.7 2122 L726.4 2121.2 L728.1 2120.2 L729.8 2117.8 L731.5 2120.4 L733.2 2118.6 L734.9 2118.5 L736.6 2119.3 L738.3 2117.2 L740 2119.6 L741.7 2120 L743.4 2120.7 L745.1 2118.7 L746.8 2118.8 L748.5 2121.4 L750.2 2121.2 L751.9 2116.8 L753.6 2119.7 L755.3 2120 L757 2117.3 L758.7 2119.4 L760.4 2117.3 L762.1 2116.8 L763.8 2115.4 L765.5 2118.7 L767.2 2115.1 L768.9 2111.6 L770.6 2113.9 L772.3 2114.8 L774 2113.9 L775.7 2117.8 L777.4 2114.3 L779.1 2114.9 L780.8 2115.6 L782.5 2116.4 L784.2 2113.5 L785.9 2112.9 L787.6 2114 L789.3 2116.1 L791 2115.1 L792.7 2116.6 L794.4 2115 L796.1 2117.8 L797.8 2117.1 L799.5 2117.1 L801.2 2118 L802.9 2118.1 L804.6 2118.3 L806.3 2116.1 L808 2119 L809.7 2118.7 L811.4 2119.6 L813.1 2119.3 L814.8 2118.4 L816.5 2119.6 L818.2 2121.1 L819.9 2119.8 L821.6 2119.1 L823.3 2119.2 L825 2120.5 L826.7 2118.1 L828.4 2119.1 L830.1 2118.6 L831.8 2117 L833.5 2120.1 L835.2 2120.4 L836.9 2118.7 L838.6 2118.9 L840.3 2120 L842 2121.6 L843.7 2119 L845.4 2121.9 L847.1 2121.1 L848.8 2116.6 L850.5 2119 L852.2 2119.9 L853.9 2118.8 L855.6 2120.6 L857.3 2119.7 L859 2119.9 L860.7 2118.9 L862.4 2116.7 L864.1 2119.7 L865.8 2117.7 L867.5 2120.3 L869.2 2119.5 L870.9 2123.2 L872.6 2119.7 L874.3 2116.7 L876 2122.4 L877.7 2119.9 L879.4 2120.9 L881.1 2121.2 L882.8 2117.9 L884.5 2117.8 L886.2 2120.4 L887.9 2117.8 L889.6 2116.7 L891.3 2118.3 L893 2118.9 L894.7 2120.1 L896.4 2118.6 L898.1 2118.3 L899.8 2119.8 L901.5 2119.4 L903.2 2120.3 L904.9 2117.5 L906.6 2122.1 L908.3 2117.6 L910 2120.8 L911.7 2120.6 L913.4 2118.2 L915.1 2119.2 L916.8 2118.6 L918.5 2120.2 L920.2 2120.6 L921.9 2119.3 L923.6 2119.6 L925.3 2118.4 L927 2120.3 L928.7 2120.3 L930.4 2119 L932.1 2118 L933.8 2120.8 L935.5 2118.1 L937.2 2118.6 L938.9 2118.3 L940.6 2119.8 L942.3 2119.3 L944 2117.6 L945.7 2118.7 L947.4 2118.5 L949.1 2120.7 L950.8 2122.7 L952.5 2121.8 L954.2 2121.8 L955.9 2121.6 L957.6 2118.8 L959.3 2119 L961 2117.8 L962.7 2120.9 L964.4 2119.8 L966.1 2118.2 L967.8 2120.2 L969.5 2119.5 L971.2 2120.8 L972.9 2119.2 L974.6 2118.7 L976.3 2119.5 L978 2119.4 L979.7 2120.7 L981.4 2119.1 L983.1 2118.9 L984.8 2119.7 L986.5 2117.8 L988.2 2118.8 L989.9 2120.5 L991.6 2118.2 L993.3 2121 L995 2118.6 L996.7 2119.1 L998.4 2120.2 L1000.1 2119.6 L1001.8 2117.7 L1003.5 2117.2 L1005.2 2119.8 L1006.9 2118.1 L1008.6 2119 L1010.3 2120.3 L1012 2119.1 L1013.7 2118.7 L1015.4 2117.9 L1017.1 2119.6 L1018.8 2122.7 L1020.5 2118.2 L1022.2 2117.5 L1023.9 2118.9 L1025.6 2121.2 L1027.3 2119.1 L1029 2119.3 L1030.7 2119.4 L1032.4 2119.7 L1034.1 2118.2 L1035.8 2117.8 L1037.5 2119.5 L1039.2 2122.1 L1040.9 2117.2 L1042.6 2119.2 L1044.3 2119.1 L1046 2118.9 L1047.7 2119.7 L1049.4 2118.6 L1051.1 2120.7 L1052.8 2118.4 L1054.5 2117.6 L1056.2 2119.3 L1057.9 2120.4 L1059.6 2123.6 L1061.3 2119.3 L1063 2121.9 L1064.7 2117.4 L1066.4 2120.9 L1068.1 2121.6 L1069.8 2119.5 L1071.5 2120.9 L1073.2 2119.2 L1074.9 2118.9 L1076.6 2119.4 L1078.3 2120.6 L1080 2117.1 L1081.7 2121.6 L1083.4 2119.3 L1085.1 2118.9 L1086.8 2121.3 L1088.5 2120 L1090.2 2123.3 L1091.9 2118.1 L1093.6 2119.4 L1095.3 2119 L1097 2121.6 L1098.7 2118.6 L1100.4 2117.7 L1102.1 2116.1 L1103.8 2117.5 L1105.5 2119.7 L1107.2 2118.5 L1108.9 2121.3 L1110.6 2117.5 L1112.3 2119.4 L1114 2117.6 L1115.7 2119.3 L1117.4 2118.5 L1119.1 2118.9 L1120.8 2116.9 L1122.5 2120.8 L1124.2 2118.6 L1125.9 2118.8 L1127.6 2118.7 L1129.3 2118.8 L1131 2121.3 L1132.7 2121 L1134.4 2119.8 L1136.1 2118.1 L1137.8 2119.7 L1139.5 2118.9 L1141.2 2116.3 L1142.9 2118.6 L1144.6 2119.7 L1146.3 2118.5 L1148 2119 L1149.7 2120.9 L1151.4 2121 L1153.1 2116.9 L1154.8 2120.1 L1156.5 2119.8 L1158.2 2120.1 L1159.9 2118.8 L1161.6 2119.9 L1163.3 2116.6 L1165 2119.1 L1166.7 2120.6 L1168.4 2117.8 L1170.1 2118.9 L1171.8 2118.5 L1173.5 2119.8 L1175.2 2121.2 L1176.9 2118.9 L1178.6 2122.4 L1180.3 2118.8 L1182 2120.8 L1183.7 2120.4 L1185.4 2118 L1187.1 2118.3 L1188.8 2119.7 L1190.5 2118.1 L1192.2 2117.6 L1193.9 2119.2 L1195.6 2117.5 L1197.3 2119.4 L1199 2119 L1200.7 2120.4 L1202.4 2121.1 L1204.1 2117.2 L1205.8 2119.1 L1207.5 2120.7 L1209.2 2123.3 L1210.9 2119.7 L1212.6 2119.9 L1214.3 2118.8 L1216 2123 L1217.7 2119.1 L1219.4 2120.4 L1221.1 2120.9 L1222.8 2117.8 L1224.5 2117.7 L1226.2 2117.8 L1227.9 2119.6 L1229.6 2120.7 L1231.3 2118.5 L1233 2122.3 L1234.7 2118.6 L1236.4 2120.1 L1238.1 2119.4 L1239.8 2118.1 L1241.5 2119.1 L1243.2 2119.5 L1244.9 2117.7 L1246.6 2119.5 L1248.3 2118.2 L1250 2122.7 L1251.7 2121.7 L1253.4 2120.5 L1255.1 2122.4 L1256.8 2121.9 L1258.5 2119.6 L1260.2 2120.2 L1261.9 2119.1 L1263.6 2118.6 L1265.3 2122.2 L1267 2119.4 L1268.7 2120.4 L1270.4 2119.8 L1272.1 2119.3 L1273.8 2117.8 L1275.5 2117.6 L1277.2 2119.1 L1278.9 2119.9 L1280.6 2116.2 L1282.3 2117.2 L1284 2118 L1285.7 2119.4 L1287.4 2118.6 L1289.1 2118.9 L1290.8 2118.2 L1292.5 2117.2 L1294.2 2118.7 L1295.9 2120.9 L1297.6 2120.1 L1299.3 2118.9 L1301 2122.6 L1302.7 2122 L1304.4 2122.6 L1306.1 2123 L1307.8 2118.9 L1309.5 2117.7 L1311.2 2114.4 L1312.9 2116.5 L1314.6 2116 L1316.3 2115.7 L1318 2116.4 L1319.7 2118.2 L1321.4 2118.3 L1323.1 2119.1 L1324.8 2119.2 L1326.5 2119.7 L1328.2 2121.1 L1329.9 2119.8 L1331.6 2119.4 L1333.3 2119.4 L1335 2119.9 L1336.7 2120.4 L1338.4 2120.9 L1340.1 2120.5 L1341.8 2120 L1343.5 2118.5 L1345.2 2121.3 L1346.9 2119.6 L1348.6 2120.9 L1350.3 2122.7 L1352 2121.8 L1353.7 2120.8 L1355.4 2122.9 L1357.1 2121.9 L1358.8 2121.8 L1360.5 2123.7 L1362.2 2122.9 L1363.9 2125.8 L1365.6 2120.6 L1367.3 2121.8 L1369 2122.2 L1370.7 2123.1 L1372.4 2121.1 L1374.1 2123.2 L1375.8 2121.4 L1377.5 2120.2 L1379.2 2120.8 L1380.9 2120.8 L1382.6 2120.6 L1384.3 2119.9 L1386 2120.3 L1387.7 2121.8 L1389.4 2121.7 L1391.1 2123 L1392.8 2119.8 L1394.5 2119.6 L1396.2 2123.4 L1397.9 2121.4 L1399.6 2121.5 L1401.3 2120 L1403 2121.6 L1404.7 2121.2 L1406.4 2121.2 L1408.1 2122.7 L1409.8 2120.3 L1411.5 2121.5 L1413.2 2119.2 L1414.9 2121.7 L1416.6 2119.8 L1418.3 2123.2 L1420 2119.3 L1421.7 2122.7 L1423.4 2119.7 L1425.1 2118.6 L1426.8 2120.7 L1428.5 2120.6 L1430.2 2119.1 L1431.9 2118.6 L1433.6 2117.2 L1435.3 2119.5 L1437 2120.3 L1438.7 2117.3 L1440.4 2119.6 L1442.1 2121 L1443.8 2116.5 L1445.5 2118.9 L1447.2 2118.5 L1448.9 2116.7 L1450.6 2117.4 L1452.3 2115.2 L1454 2116.7 L1455.7 2117.7 L1457.4 2114.9 L1459.1 2115.6 L1460.8 2116.8 L1462.5 2124 L1464.2 2123 L1465.9 2119.2 L1467.6 2118.8 L1469.3 2117.7 L1471 2120.1 L1472.7 2117.2 L1474.4 2120.5 L1476.1 2115.6 L1477.8 2117.6 L1479.5 2114.5 L1481.2 2115.4 L1482.9 2115 L1484.6 2114.3 L1486.3 2114.8 L1488 2115 L1489.7 2117.7 L1491.4 2116.1 L1493.1 2113.2 L1494.8 2111.5 L1496.5 2112.8 L1498.2 2111.4 L1499.9 2109.1 L1501.6 2107.4 L1503.3 2105.7 L1505 2102.5 L1506.7 2101.8 L1508.4 2100.3 L1510.1 2100.1 L1511.8 2099.5 L1513.5 2101.5 L1515.2 2101.1 L1516.9 2101 L1518.6 2102.4 L1520.3 2103.3 L1522 2104.8 L1523.7 2107.1 L1525.4 2108.9 L1527.1 2106.9 L1528.8 2109.3 L1530.5 2110.4 L1532.2 2109.7 L1533.9 2112.3 L1535.6 2112.1 L1537.3 2111.1 L1539 2109.1 L1540.7 2108.9 L1542.4 2110.2 L1544.1 2111.7 L1545.8 2108.4 L1547.5 2105.9 L1549.2 2109.6 L1550.9 2108 L1552.6 2108.9 L1554.3 2106.5 L1556 2108 L1557.7 2107.1 L1559.4 2105 L1561.1 2105.8 L1562.8 2106.9 L1564.5 2106.2 L1566.2 2109.2 L1567.9 2107.9 L1569.6 2110 L1571.3 2109.2 L1573 2108.8 L1574.7 2106 L1576.4 2100.3 L1578.1 2099.6 L1579.8 2099.5 L1581.5 2097.8 L1583.2 2099.6 L1584.9 2099 L1586.6 2096.1 L1588.3 2098.5 L1590 2100.5 L1591.7 2100.6 L1593.4 2104.9 L1595.1 2105.3 L1596.8 2105.5 L1598.5 2105.5 L1600.2 2106.4 L1601.9 2107.7 L1603.6 2111.6 L1605.3 2111.8 L1607 2116 L1608.7 2118.6 L1610.4 2114.9 L1612.1 2116.5 L1613.8 2119.3 L1615.5 2119 L1617.2 2117.9 L1618.9 2118.3 L1620.6 2117.8 L1622.3 2118.2 L1624 2115.7 L1625.7 2115.8 L1627.4 2115.4 L1629.1 2115.4 L1630.8 2113.9 L1632.5 2110.9 L1634.2 2107.7 L1635.9 2107.4 L1637.6 2101.9 L1639.3 2098.4 L1641 2093.2 L1642.7 2088.5 L1644.4 2084.6 L1646.1 2080.1 L1647.8 2078.9 L1649.5 2076.6 L1651.2 2078.6 L1652.9 2080 L1654.6 2094.1 L1656.3 2108.4 L1658 2109.2 L1659.7 2111.4 L1661.4 2113.2 L1663.1 2112.1 L1664.8 2112.5 L1666.5 2113.8 L1668.2 2112.5 L1669.9 2112 L1671.6 2114.4 L1673.3 2114.5 L1675 2113.4 L1676.7 2112.3 L1678.4 2114.7 L1680.1 2114 L1681.8 2111.8 L1683.5 2112.7 L1685.2 2112.3 L1686.9 2111.7 L1688.6 2115.8 L1690.3 2116.2 L1692 2112.1 L1693.7 2115.5 L1695.4 2114.8 L1697.1 2115.9 L1698.8 2117.7 L1700.5 2118.9 L1702.2 2119 L1703.9 2119.4 L1705.6 2122 L1707.3 2122.2 L1709 2116.8 L1710.7 2115.7 L1712.4 2114.8 L1714.1 2114.3 L1715.8 2115.2 L1717.5 2117.1 L1719.2 2116.8 L1720.9 2116.5 L1722.6 2117 L1724.3 2116.5 L1726 2118.6 L1727.7 2117.5 L1729.4 2116.8 L1731.1 2117.4 L1732.8 2118 L1734.5 2119.7 L1736.2 2117.7 L1737.9 2117.2 L1739.6 2120.2 L1741.3 2117.5 L1743 2119 L1744.7 2117.9 L1746.4 2118.1 L1748.1 2115.9 L1749.8 2117.6 L1751.5 2116.5 L1753.2 2115.6 L1754.9 2117.3 L1756.6 2116.5 L1758.3 2116.8 L1760 2117.8 L1761.7 2113.3 L1763.4 2115.4 L1765.1 2112.3 L1766.8 2111.3 L1768.5 2113.5 L1770.2 2113.1 L1771.9 2111.2 L1773.6 2114 L1775.3 2114.5 L1777 2116 L1778.7 2115.9 L1780.4 2114.9 L1782.1 2113.3 L1783.8 2115.1 L1785.5 2116.1 L1787.2 2116.6 L1788.9 2117.1 L1790.6 2116.4 L1792.3 2117 L1794 2115.9 L1795.7 2116.1 L1797.4 2117.1 L1799.1 2117.5 L1800.8 2115 L1802.5 2115.8 L1804.2 2116.1 L1805.9 2117.1 L1807.6 2116.3 L1809.3 2119.2 L1811 2116.4 L1812.7 2115.4 L1814.4 2116 L1816.1 2115.5 L1817.8 2116 L1819.5 2116.5 L1821.2 2117.8 L1822.9 2117.7 L1824.6 2116.7 L1826.3 2114.7 L1828 2116.4 L1829.7 2114.8 L1831.4 2115.6 L1833.1 2116.2 L1834.8 2115.5 L1836.5 2118 L1838.2 2115.4 L1839.9 2114.9 L1841.6 2115 L1843.3 2116.3 L1845 2113.2 L1846.7 2114.5 L1848.4 2113 L1850.1 2113.1 L1851.8 2110.5 L1853.5 2111.4 L1855.2 2111.9 L1856.9 2109.2 L1858.6 2111.1 L1860.3 2108.7 L1862 2109 L1863.7 2107.6 L1865.4 2109.4 L1867.1 2109 L1868.8 2108.3 L1870.5 2109 L1872.2 2107.1 L1873.9 2109.9 L1875.6 2108.3 L1877.3 2107.5 L1879 2108.5 L1880.7 2109.1 L1882.4 2108.1 L1884.1 2108.6 L1885.8 2111.9 L1887.5 2109.3 L1889.2 2108.6 L1890.9 2109 L1892.6 2105.9 L1894.3 2103.1 L1896 2104 L1897.7 2101.2 L1899.4 2102.4 L1901.1 2097.8 L1902.8 2092.8 L1904.5 2084.7 L1906.2 2068.9 L1907.9 2054.4 L1909.6 2025.5 L1911.3 2018.5 L1913 2040.9 L1914.7 2060.8 L1916.4 2077.8 L1918.1 2090.6 L1919.8 2096.8 L1921.5 2105.1 L1923.2 2110.4 L1924.9 2114 L1926.6 2115.5 L1928.3 2115.7 L1930 2116.9 L1931.7 2117.4 L1933.4 2114.8 L1935.1 2119.3 L1936.8 2117.4 L1938.5 2117 L1940.2 2115.9 L1941.9 2116.4 L1943.6 2118.4 L1945.3 2118.1 L1947 2115.5 L1948.7 2116.7 L1950.4 2117.7 L1952.1 2116.9 L1953.8 2120.4 L1955.5 2119.6 L1957.2 2117.7 L1958.9 2116.4 L1960.6 2118.4 L1962.3 2117.8 L1964 2117.8 L1965.7 2117 L1967.4 2119.2 L1969.1 2118.3 L1970.8 2119.8 L1972.5 2119.4 L1974.2 2118 L1975.9 2118.7 L1977.6 2117.7 L1979.3 2118.7 L1981 2117.4 L1982.7 2119.4 L1984.4 2116.1 L1986.1 2119.1 L1987.8 2118.6 L1989.5 2119.6 L1991.2 2117.6 L1992.9 2119 L1994.6 2119.5 L1996.3 2118.7 L1998 2119 L1999.7 2118.8 L2001.4 2118.4 L2003.1 2118.3 L2004.8 2117.2 L2006.5 2119.3 L2008.2 2119 L2009.9 2120.9 L2011.6 2118.1 L2013.3 2120.9 L2015 2120.4 L2016.7 2116.5 L2018.4 2119.1 L2020.1 2120.8 L2021.8 2119.2 L2023.5 2120.1 L2025.2 2120.4 L2026.9 2118.4 L2028.6 2119.8 L2030.3 2119.2 L2032 2120.8 L2033.7 2116.5 L2035.4 2118.9 L2037.1 2118.1 L2038.8 2119.2 L2040.5 2119.9 L2042.2 2119.7 L2043.9 2119.4 L2045.6 2120.5 L2047.3 2118.6 L2049 2120.5 L2050.7 2119.6 L2052.4 2118.1 L2054.1 2119.8 L2055.8 2120 L2057.5 2119.7 L2059.2 2118.2 L2060.9 2119.6 L2062.6 2122.1 L2064.3 2121.9 L2066 2118.6 L2067.7 2119.5 L2069.4 2119.1 L2071.1 2118 L2072.8 2118 L2074.5 2119.6 L2076.2 2121.2 L2077.9 2120.9 L2079.6 2121.3 L2081.3 2122.1 L2083 2119 L2084.7 2119.6 L2086.4 2118 L2088.1 2119.4 L2089.8 2120.3 L2091.5 2121.2 L2093.2 2118.5 L2094.9 2119.1 L2096.6 2119.6 L2098.3 2119.6 L2100 2118 L2101.7 2120.6 L2103.4 2119.5 L2105.1 2119.5 L2106.8 2119.1 L2108.5 2119.8 L2110.2 2119.2 L2111.9 2119.8 L2113.6 2121.4 L2115.3 2119.9 L2117 2120.5 L2118.7 2120.1 L2120.4 2118.3 L2122.1 2117.9 L2123.8 2120.7 L2125.5 2119.2 L2127.2 2119.8 L2128.9 2119.3 L2130.6 2118.6 L2132.3 2121.7 L2134 2123.4 L2135.7 2121.8 L2137.4 2118.7 L2139.1 2119.7 L2140.8 2120.6 L2142.5 2118.9 L2144.2 2120 L2145.9 2120.6 L2147.6 2122.5 L2149.3 2118.4 L2151 2120.4 L2152.7 2119 L2154.4 2117.6 L2156.1 2121.1 L2157.8 2118.1 L2159.5 2120 L2161.2 2121.3 L2162.9 2120.6 L2164.6 2120.1 L2166.3 2121.7" fill="none" stroke="#ff2020" stroke-width="2.3" stroke-linejoin="round" stroke-linecap="round"/>
</g>
</svg>
</body></html>
